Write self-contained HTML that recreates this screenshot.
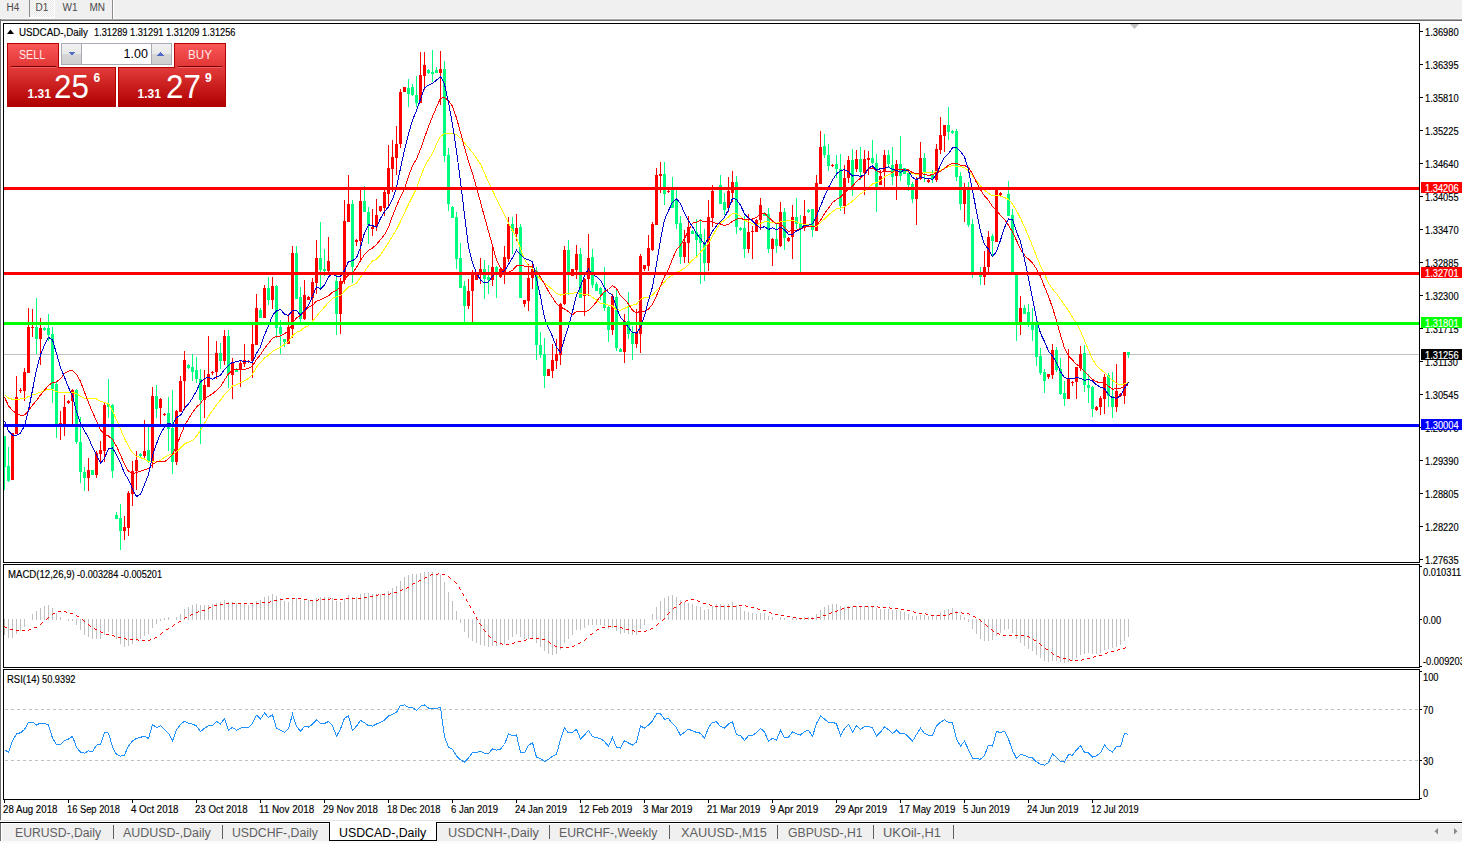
<!DOCTYPE html><html><head><meta charset="utf-8"><style>
html,body{margin:0;padding:0;}
body{width:1462px;height:843px;position:relative;overflow:hidden;background:#fff;font-family:"Liberation Sans", sans-serif;}
.t{position:absolute;white-space:pre;line-height:1;}
.ax{position:absolute;white-space:pre;line-height:1;font-size:10px;transform:scaleX(0.93);transform-origin:0 0;color:#000;-webkit-text-stroke:0.15px currentColor}
.ch{position:absolute;left:0;top:0;}
.bx{position:absolute;}
</style></head><body>
<div class="bx" style="left:0;top:0;width:1462px;height:19px;background:#f0f0f0"></div><div class="bx" style="left:0;top:18px;width:1462px;height:1px;background:#f7f7f7"></div><div class="bx" style="left:0;top:19px;width:1462px;height:1px;background:#a8a8a8"></div><div class="bx" style="left:0;top:20px;width:1462px;height:1px;background:#6e6e6e"></div><div class="bx" style="left:29px;top:0;width:1px;height:17px;background:#8c8c8c"></div><div class="bx" style="left:30px;top:0;width:24px;height:17px;background-image:repeating-conic-gradient(#ffffff 0 25%, #e6e6e6 0 50%);background-size:2px 2px"></div><div class="bx" style="left:29px;top:17px;width:26px;height:1px;background:#fff"></div><div class="bx" style="left:54px;top:0;width:1px;height:18px;background:#fff"></div><div class="bx" style="left:112px;top:0;width:1px;height:19px;background:#8c8c8c"></div><div class="bx" style="left:113px;top:0;width:1px;height:19px;background:#fff"></div><div class="t" style="left:6.5px;top:3px;font-size:10px;color:#4a4a4a">H4</div><div class="t" style="left:35.5px;top:3px;font-size:10px;color:#4a4a4a">D1</div><div class="t" style="left:62.5px;top:3px;font-size:10px;color:#4a4a4a">W1</div><div class="t" style="left:89.5px;top:3px;font-size:10px;color:#4a4a4a">MN</div><div class="bx" style="left:0;top:19px;width:1px;height:801px;background:#6e6e6e"></div><div class="bx" style="left:0;top:820px;width:1462px;height:1px;background:#e3e3e3"></div><div class="bx" style="left:0;top:822px;width:1462px;height:1px;background:#000"></div><div class="bx" style="left:0;top:824px;width:1462px;height:17px;background:#f0f0f0"></div><div class="bx" style="left:0;top:841px;width:1462px;height:2px;background:#fafafa"></div><div class="bx" style="left:0;top:823px;width:1px;height:18px;background:#6e6e6e"></div><div class="bx" style="left:1px;top:823px;width:1px;height:18px;background:#fff"></div><div class="bx" style="left:329px;top:822px;width:106px;height:18px;background:#fff;border:1px solid #000;border-top:none"></div><div class="t" style="left:15.4px;top:827px;font-size:12px;color:#5f5f5f;transform:scaleX(1.017);transform-origin:0 0">EURUSD-,Daily</div><div class="t" style="left:123.1px;top:827px;font-size:12px;color:#5f5f5f;transform:scaleX(1.036);transform-origin:0 0">AUDUSD-,Daily</div><div class="t" style="left:232.1px;top:827px;font-size:12px;color:#5f5f5f;transform:scaleX(1.021);transform-origin:0 0">USDCHF-,Daily</div><div class="t" style="left:339.4px;top:827px;font-size:12px;color:#000;transform:scaleX(1.029);transform-origin:0 0">USDCAD-,Daily</div><div class="t" style="left:448.0px;top:827px;font-size:12px;color:#5f5f5f;transform:scaleX(1.065);transform-origin:0 0">USDCNH-,Daily</div><div class="t" style="left:559.4px;top:827px;font-size:12px;color:#5f5f5f;transform:scaleX(1.02);transform-origin:0 0">EURCHF-,Weekly</div><div class="t" style="left:680.9px;top:827px;font-size:12px;color:#5f5f5f;transform:scaleX(1.065);transform-origin:0 0">XAUUSD-,M15</div><div class="t" style="left:787.6px;top:827px;font-size:12px;color:#5f5f5f;transform:scaleX(1.017);transform-origin:0 0">GBPUSD-,H1</div><div class="t" style="left:883.4px;top:827px;font-size:12px;color:#5f5f5f;transform:scaleX(1.073);transform-origin:0 0">UKOil-,H1</div><div class="bx" style="left:113px;top:825px;width:1px;height:14px;background:#5f5f5f"></div><div class="bx" style="left:222px;top:825px;width:1px;height:14px;background:#5f5f5f"></div><div class="bx" style="left:549px;top:825px;width:1px;height:14px;background:#5f5f5f"></div><div class="bx" style="left:669px;top:825px;width:1px;height:14px;background:#5f5f5f"></div><div class="bx" style="left:777px;top:825px;width:1px;height:14px;background:#5f5f5f"></div><div class="bx" style="left:873px;top:825px;width:1px;height:14px;background:#5f5f5f"></div><div class="bx" style="left:953px;top:825px;width:1px;height:14px;background:#5f5f5f"></div><svg class="ch" width="1462" height="843" style="pointer-events:none"><polygon points="1438,828 1438,834.5 1434.5,831.2" fill="#8a8a8a"/><polygon points="1454,828 1454,834.5 1457.5,831.2" fill="#8a8a8a"/></svg>
<svg class="ch" width="1462" height="843"><defs><clipPath id="cm"><rect x="4" y="24" width="1415" height="538"/></clipPath><clipPath id="cd"><rect x="4" y="565" width="1415" height="102"/></clipPath><clipPath id="cr"><rect x="4" y="670" width="1415" height="129"/></clipPath></defs><g clip-path="url(#cm)"><line x1="4" y1="354.5" x2="1419" y2="354.5" stroke="#c0c0c0" stroke-width="1"/><g shape-rendering="crispEdges"><rect x="4" y="436" width="1" height="54" fill="#00ff7f"/><rect x="3" y="436" width="3" height="31" fill="#00ff7f"/><rect x="8" y="447" width="1" height="35" fill="#00ff7f"/><rect x="7" y="466" width="3" height="15" fill="#00ff7f"/><rect x="12" y="433" width="1" height="47" fill="#ff0000"/><rect x="11" y="433" width="3" height="47" fill="#ff0000"/><rect x="16" y="376" width="1" height="58" fill="#ff0000"/><rect x="15" y="397" width="3" height="37" fill="#ff0000"/><rect x="20" y="388" width="1" height="5" fill="#ff0000"/><rect x="19" y="390" width="3" height="1" fill="#ff0000"/><rect x="24" y="368" width="1" height="33" fill="#ff0000"/><rect x="23" y="372" width="3" height="19" fill="#ff0000"/><rect x="28" y="308" width="1" height="65" fill="#ff0000"/><rect x="27" y="327" width="3" height="46" fill="#ff0000"/><rect x="32" y="309" width="1" height="28" fill="#ff0000"/><rect x="31" y="327" width="3" height="1" fill="#ff0000"/><rect x="36" y="298" width="1" height="56" fill="#00ff7f"/><rect x="35" y="327" width="3" height="12" fill="#00ff7f"/><rect x="40" y="318" width="1" height="47" fill="#ff0000"/><rect x="39" y="328" width="3" height="11" fill="#ff0000"/><rect x="44" y="327" width="1" height="4" fill="#00ff7f"/><rect x="43" y="328" width="3" height="2" fill="#00ff7f"/><rect x="48" y="314" width="1" height="27" fill="#00ff7f"/><rect x="47" y="328" width="3" height="7" fill="#00ff7f"/><rect x="52" y="327" width="1" height="76" fill="#00ff7f"/><rect x="51" y="334" width="3" height="55" fill="#00ff7f"/><rect x="56" y="382" width="1" height="56" fill="#00ff7f"/><rect x="55" y="384" width="3" height="40" fill="#00ff7f"/><rect x="60" y="411" width="1" height="29" fill="#ff0000"/><rect x="59" y="423" width="3" height="2" fill="#ff0000"/><rect x="64" y="395" width="1" height="41" fill="#ff0000"/><rect x="63" y="407" width="3" height="17" fill="#ff0000"/><rect x="68" y="400" width="1" height="4" fill="#ff0000"/><rect x="67" y="401" width="3" height="2" fill="#ff0000"/><rect x="72" y="389" width="1" height="35" fill="#ff0000"/><rect x="71" y="390" width="3" height="11" fill="#ff0000"/><rect x="76" y="389" width="1" height="55" fill="#00ff7f"/><rect x="75" y="390" width="3" height="52" fill="#00ff7f"/><rect x="80" y="417" width="1" height="66" fill="#00ff7f"/><rect x="79" y="442" width="3" height="30" fill="#00ff7f"/><rect x="84" y="467" width="1" height="24" fill="#00ff7f"/><rect x="83" y="472" width="3" height="6" fill="#00ff7f"/><rect x="88" y="458" width="1" height="33" fill="#ff0000"/><rect x="87" y="470" width="3" height="8" fill="#ff0000"/><rect x="92" y="470" width="1" height="5" fill="#00ff7f"/><rect x="91" y="470" width="3" height="5" fill="#00ff7f"/><rect x="96" y="451" width="1" height="27" fill="#ff0000"/><rect x="95" y="453" width="3" height="22" fill="#ff0000"/><rect x="100" y="441" width="1" height="22" fill="#ff0000"/><rect x="99" y="450" width="3" height="4" fill="#ff0000"/><rect x="104" y="403" width="1" height="59" fill="#ff0000"/><rect x="103" y="405" width="3" height="46" fill="#ff0000"/><rect x="108" y="379" width="1" height="39" fill="#00ff7f"/><rect x="107" y="404" width="3" height="3" fill="#00ff7f"/><rect x="112" y="404" width="1" height="74" fill="#00ff7f"/><rect x="111" y="405" width="3" height="66" fill="#00ff7f"/><rect x="116" y="512" width="1" height="7" fill="#00ff7f"/><rect x="115" y="515" width="3" height="4" fill="#00ff7f"/><rect x="120" y="504" width="1" height="46" fill="#00ff7f"/><rect x="119" y="518" width="3" height="13" fill="#00ff7f"/><rect x="124" y="516" width="1" height="24" fill="#ff0000"/><rect x="123" y="527" width="3" height="4" fill="#ff0000"/><rect x="128" y="491" width="1" height="45" fill="#ff0000"/><rect x="127" y="493" width="3" height="35" fill="#ff0000"/><rect x="132" y="461" width="1" height="45" fill="#ff0000"/><rect x="131" y="471" width="3" height="23" fill="#ff0000"/><rect x="136" y="451" width="1" height="39" fill="#ff0000"/><rect x="135" y="460" width="3" height="11" fill="#ff0000"/><rect x="140" y="453" width="1" height="4" fill="#00ff7f"/><rect x="139" y="454" width="3" height="2" fill="#00ff7f"/><rect x="144" y="420" width="1" height="38" fill="#ff0000"/><rect x="143" y="451" width="3" height="5" fill="#ff0000"/><rect x="148" y="426" width="1" height="37" fill="#00ff7f"/><rect x="147" y="450" width="3" height="11" fill="#00ff7f"/><rect x="152" y="387" width="1" height="81" fill="#ff0000"/><rect x="151" y="396" width="3" height="66" fill="#ff0000"/><rect x="156" y="385" width="1" height="33" fill="#00ff7f"/><rect x="155" y="396" width="3" height="13" fill="#00ff7f"/><rect x="160" y="398" width="1" height="27" fill="#ff0000"/><rect x="159" y="399" width="3" height="9" fill="#ff0000"/><rect x="164" y="413" width="1" height="3" fill="#ff0000"/><rect x="163" y="414" width="3" height="1" fill="#ff0000"/><rect x="168" y="397" width="1" height="54" fill="#00ff7f"/><rect x="167" y="413" width="3" height="16" fill="#00ff7f"/><rect x="172" y="390" width="1" height="84" fill="#00ff7f"/><rect x="171" y="428" width="3" height="34" fill="#00ff7f"/><rect x="176" y="410" width="1" height="55" fill="#ff0000"/><rect x="175" y="411" width="3" height="51" fill="#ff0000"/><rect x="180" y="376" width="1" height="36" fill="#ff0000"/><rect x="179" y="381" width="3" height="31" fill="#ff0000"/><rect x="184" y="351" width="1" height="59" fill="#ff0000"/><rect x="183" y="360" width="3" height="21" fill="#ff0000"/><rect x="188" y="364" width="1" height="5" fill="#00ff7f"/><rect x="187" y="365" width="3" height="3" fill="#00ff7f"/><rect x="192" y="354" width="1" height="27" fill="#00ff7f"/><rect x="191" y="367" width="3" height="5" fill="#00ff7f"/><rect x="196" y="357" width="1" height="26" fill="#00ff7f"/><rect x="195" y="370" width="3" height="9" fill="#00ff7f"/><rect x="200" y="369" width="1" height="75" fill="#00ff7f"/><rect x="199" y="379" width="3" height="21" fill="#00ff7f"/><rect x="204" y="370" width="1" height="48" fill="#ff0000"/><rect x="203" y="385" width="3" height="15" fill="#ff0000"/><rect x="208" y="336" width="1" height="51" fill="#ff0000"/><rect x="207" y="374" width="3" height="13" fill="#ff0000"/><rect x="212" y="371" width="1" height="4" fill="#ff0000"/><rect x="211" y="372" width="3" height="1" fill="#ff0000"/><rect x="216" y="341" width="1" height="38" fill="#ff0000"/><rect x="215" y="353" width="3" height="19" fill="#ff0000"/><rect x="220" y="343" width="1" height="26" fill="#00ff7f"/><rect x="219" y="353" width="3" height="8" fill="#00ff7f"/><rect x="224" y="330" width="1" height="35" fill="#ff0000"/><rect x="223" y="336" width="3" height="25" fill="#ff0000"/><rect x="228" y="330" width="1" height="58" fill="#00ff7f"/><rect x="227" y="336" width="3" height="38" fill="#00ff7f"/><rect x="232" y="358" width="1" height="41" fill="#ff0000"/><rect x="231" y="362" width="3" height="13" fill="#ff0000"/><rect x="236" y="368" width="1" height="4" fill="#00ff7f"/><rect x="235" y="369" width="3" height="3" fill="#00ff7f"/><rect x="240" y="360" width="1" height="27" fill="#ff0000"/><rect x="239" y="363" width="3" height="7" fill="#ff0000"/><rect x="244" y="344" width="1" height="23" fill="#ff0000"/><rect x="243" y="360" width="3" height="4" fill="#ff0000"/><rect x="248" y="360" width="1" height="3" fill="#ff0000"/><rect x="247" y="361" width="3" height="1" fill="#ff0000"/><rect x="252" y="325" width="1" height="53" fill="#ff0000"/><rect x="251" y="344" width="3" height="17" fill="#ff0000"/><rect x="256" y="294" width="1" height="51" fill="#ff0000"/><rect x="255" y="308" width="3" height="37" fill="#ff0000"/><rect x="260" y="308" width="1" height="10" fill="#00ff7f"/><rect x="259" y="310" width="3" height="8" fill="#00ff7f"/><rect x="264" y="285" width="1" height="33" fill="#ff0000"/><rect x="263" y="288" width="3" height="30" fill="#ff0000"/><rect x="268" y="277" width="1" height="28" fill="#00ff7f"/><rect x="267" y="288" width="3" height="12" fill="#00ff7f"/><rect x="272" y="277" width="1" height="32" fill="#ff0000"/><rect x="271" y="286" width="3" height="14" fill="#ff0000"/><rect x="276" y="285" width="1" height="53" fill="#00ff7f"/><rect x="275" y="286" width="3" height="42" fill="#00ff7f"/><rect x="280" y="320" width="1" height="34" fill="#00ff7f"/><rect x="279" y="327" width="3" height="7" fill="#00ff7f"/><rect x="284" y="339" width="1" height="8" fill="#00ff7f"/><rect x="283" y="339" width="3" height="3" fill="#00ff7f"/><rect x="288" y="314" width="1" height="30" fill="#ff0000"/><rect x="287" y="327" width="3" height="17" fill="#ff0000"/><rect x="292" y="246" width="1" height="92" fill="#ff0000"/><rect x="291" y="253" width="3" height="76" fill="#ff0000"/><rect x="296" y="246" width="1" height="53" fill="#00ff7f"/><rect x="295" y="253" width="3" height="46" fill="#00ff7f"/><rect x="300" y="287" width="1" height="35" fill="#00ff7f"/><rect x="299" y="297" width="3" height="22" fill="#00ff7f"/><rect x="304" y="280" width="1" height="40" fill="#ff0000"/><rect x="303" y="295" width="3" height="24" fill="#ff0000"/><rect x="308" y="296" width="1" height="4" fill="#ff0000"/><rect x="307" y="297" width="3" height="3" fill="#ff0000"/><rect x="312" y="278" width="1" height="42" fill="#ff0000"/><rect x="311" y="282" width="3" height="16" fill="#ff0000"/><rect x="316" y="240" width="1" height="54" fill="#ff0000"/><rect x="315" y="258" width="3" height="25" fill="#ff0000"/><rect x="320" y="222" width="1" height="68" fill="#00ff7f"/><rect x="319" y="258" width="3" height="12" fill="#00ff7f"/><rect x="324" y="249" width="1" height="27" fill="#00ff7f"/><rect x="323" y="269" width="3" height="2" fill="#00ff7f"/><rect x="328" y="237" width="1" height="35" fill="#ff0000"/><rect x="327" y="261" width="3" height="10" fill="#ff0000"/><rect x="332" y="272" width="1" height="3" fill="#00ff7f"/><rect x="331" y="273" width="3" height="1" fill="#00ff7f"/><rect x="336" y="274" width="1" height="61" fill="#00ff7f"/><rect x="335" y="281" width="3" height="33" fill="#00ff7f"/><rect x="340" y="278" width="1" height="56" fill="#ff0000"/><rect x="339" y="281" width="3" height="33" fill="#ff0000"/><rect x="344" y="200" width="1" height="84" fill="#ff0000"/><rect x="343" y="221" width="3" height="59" fill="#ff0000"/><rect x="348" y="175" width="1" height="47" fill="#ff0000"/><rect x="347" y="204" width="3" height="18" fill="#ff0000"/><rect x="352" y="200" width="1" height="83" fill="#00ff7f"/><rect x="351" y="204" width="3" height="63" fill="#00ff7f"/><rect x="356" y="239" width="1" height="7" fill="#ff0000"/><rect x="355" y="240" width="3" height="2" fill="#ff0000"/><rect x="360" y="190" width="1" height="70" fill="#ff0000"/><rect x="359" y="201" width="3" height="40" fill="#ff0000"/><rect x="364" y="186" width="1" height="26" fill="#00ff7f"/><rect x="363" y="201" width="3" height="11" fill="#00ff7f"/><rect x="368" y="207" width="1" height="37" fill="#00ff7f"/><rect x="367" y="212" width="3" height="13" fill="#00ff7f"/><rect x="372" y="209" width="1" height="27" fill="#ff0000"/><rect x="371" y="227" width="3" height="2" fill="#ff0000"/><rect x="376" y="199" width="1" height="32" fill="#ff0000"/><rect x="375" y="215" width="3" height="12" fill="#ff0000"/><rect x="380" y="206" width="1" height="6" fill="#ff0000"/><rect x="379" y="206" width="3" height="5" fill="#ff0000"/><rect x="384" y="189" width="1" height="27" fill="#ff0000"/><rect x="383" y="192" width="3" height="16" fill="#ff0000"/><rect x="388" y="145" width="1" height="61" fill="#ff0000"/><rect x="387" y="168" width="3" height="26" fill="#ff0000"/><rect x="392" y="140" width="1" height="52" fill="#ff0000"/><rect x="391" y="157" width="3" height="12" fill="#ff0000"/><rect x="396" y="126" width="1" height="49" fill="#ff0000"/><rect x="395" y="144" width="3" height="14" fill="#ff0000"/><rect x="400" y="89" width="1" height="59" fill="#ff0000"/><rect x="399" y="92" width="3" height="52" fill="#ff0000"/><rect x="404" y="87" width="1" height="5" fill="#ff0000"/><rect x="403" y="87" width="3" height="5" fill="#ff0000"/><rect x="408" y="79" width="1" height="28" fill="#00ff7f"/><rect x="407" y="88" width="3" height="6" fill="#00ff7f"/><rect x="412" y="84" width="1" height="12" fill="#00ff7f"/><rect x="411" y="87" width="3" height="8" fill="#00ff7f"/><rect x="416" y="76" width="1" height="31" fill="#00ff7f"/><rect x="415" y="95" width="3" height="8" fill="#00ff7f"/><rect x="420" y="52" width="1" height="51" fill="#ff0000"/><rect x="419" y="75" width="3" height="28" fill="#ff0000"/><rect x="424" y="52" width="1" height="38" fill="#ff0000"/><rect x="423" y="65" width="3" height="11" fill="#ff0000"/><rect x="428" y="69" width="1" height="5" fill="#00ff7f"/><rect x="427" y="70" width="3" height="3" fill="#00ff7f"/><rect x="432" y="50" width="1" height="32" fill="#00ff7f"/><rect x="431" y="72" width="3" height="2" fill="#00ff7f"/><rect x="436" y="67" width="1" height="6" fill="#00ff7f"/><rect x="435" y="70" width="3" height="3" fill="#00ff7f"/><rect x="440" y="51" width="1" height="54" fill="#ff0000"/><rect x="439" y="69" width="3" height="4" fill="#ff0000"/><rect x="444" y="61" width="1" height="101" fill="#00ff7f"/><rect x="443" y="69" width="3" height="87" fill="#00ff7f"/><rect x="448" y="148" width="1" height="63" fill="#00ff7f"/><rect x="447" y="155" width="3" height="49" fill="#00ff7f"/><rect x="452" y="206" width="1" height="12" fill="#00ff7f"/><rect x="451" y="207" width="3" height="11" fill="#00ff7f"/><rect x="456" y="212" width="1" height="57" fill="#00ff7f"/><rect x="455" y="217" width="3" height="42" fill="#00ff7f"/><rect x="460" y="243" width="1" height="45" fill="#00ff7f"/><rect x="459" y="258" width="3" height="30" fill="#00ff7f"/><rect x="464" y="281" width="1" height="44" fill="#00ff7f"/><rect x="463" y="286" width="3" height="20" fill="#00ff7f"/><rect x="468" y="279" width="1" height="30" fill="#ff0000"/><rect x="467" y="291" width="3" height="15" fill="#ff0000"/><rect x="472" y="270" width="1" height="55" fill="#ff0000"/><rect x="471" y="272" width="3" height="19" fill="#ff0000"/><rect x="476" y="272" width="1" height="8" fill="#ff0000"/><rect x="475" y="272" width="3" height="8" fill="#ff0000"/><rect x="480" y="258" width="1" height="26" fill="#ff0000"/><rect x="479" y="269" width="3" height="3" fill="#ff0000"/><rect x="484" y="260" width="1" height="39" fill="#00ff7f"/><rect x="483" y="269" width="3" height="10" fill="#00ff7f"/><rect x="488" y="265" width="1" height="29" fill="#00ff7f"/><rect x="487" y="277" width="3" height="3" fill="#00ff7f"/><rect x="492" y="247" width="1" height="39" fill="#ff0000"/><rect x="491" y="267" width="3" height="13" fill="#ff0000"/><rect x="496" y="266" width="1" height="32" fill="#00ff7f"/><rect x="495" y="267" width="3" height="5" fill="#00ff7f"/><rect x="500" y="268" width="1" height="10" fill="#ff0000"/><rect x="499" y="269" width="3" height="8" fill="#ff0000"/><rect x="504" y="246" width="1" height="38" fill="#ff0000"/><rect x="503" y="257" width="3" height="16" fill="#ff0000"/><rect x="508" y="217" width="1" height="45" fill="#ff0000"/><rect x="507" y="224" width="3" height="35" fill="#ff0000"/><rect x="512" y="217" width="1" height="37" fill="#00ff7f"/><rect x="511" y="224" width="3" height="7" fill="#00ff7f"/><rect x="516" y="214" width="1" height="27" fill="#ff0000"/><rect x="515" y="228" width="3" height="6" fill="#ff0000"/><rect x="520" y="224" width="1" height="74" fill="#00ff7f"/><rect x="519" y="227" width="3" height="71" fill="#00ff7f"/><rect x="524" y="300" width="1" height="7" fill="#ff0000"/><rect x="523" y="300" width="3" height="4" fill="#ff0000"/><rect x="528" y="264" width="1" height="47" fill="#ff0000"/><rect x="527" y="278" width="3" height="23" fill="#ff0000"/><rect x="532" y="262" width="1" height="27" fill="#ff0000"/><rect x="531" y="269" width="3" height="9" fill="#ff0000"/><rect x="536" y="267" width="1" height="93" fill="#00ff7f"/><rect x="535" y="271" width="3" height="74" fill="#00ff7f"/><rect x="540" y="332" width="1" height="26" fill="#00ff7f"/><rect x="539" y="345" width="3" height="10" fill="#00ff7f"/><rect x="544" y="338" width="1" height="50" fill="#00ff7f"/><rect x="543" y="354" width="3" height="22" fill="#00ff7f"/><rect x="548" y="369" width="1" height="7" fill="#ff0000"/><rect x="547" y="369" width="3" height="7" fill="#ff0000"/><rect x="552" y="344" width="1" height="34" fill="#ff0000"/><rect x="551" y="360" width="3" height="11" fill="#ff0000"/><rect x="556" y="339" width="1" height="30" fill="#ff0000"/><rect x="555" y="354" width="3" height="7" fill="#ff0000"/><rect x="560" y="303" width="1" height="62" fill="#ff0000"/><rect x="559" y="304" width="3" height="51" fill="#ff0000"/><rect x="564" y="246" width="1" height="59" fill="#ff0000"/><rect x="563" y="250" width="3" height="54" fill="#ff0000"/><rect x="568" y="240" width="1" height="55" fill="#00ff7f"/><rect x="567" y="250" width="3" height="22" fill="#00ff7f"/><rect x="572" y="269" width="1" height="7" fill="#ff0000"/><rect x="571" y="269" width="3" height="7" fill="#ff0000"/><rect x="576" y="245" width="1" height="34" fill="#ff0000"/><rect x="575" y="254" width="3" height="16" fill="#ff0000"/><rect x="580" y="248" width="1" height="50" fill="#00ff7f"/><rect x="579" y="254" width="3" height="44" fill="#00ff7f"/><rect x="584" y="278" width="1" height="38" fill="#ff0000"/><rect x="583" y="279" width="3" height="17" fill="#ff0000"/><rect x="588" y="234" width="1" height="62" fill="#ff0000"/><rect x="587" y="258" width="3" height="21" fill="#ff0000"/><rect x="592" y="249" width="1" height="39" fill="#00ff7f"/><rect x="591" y="257" width="3" height="28" fill="#00ff7f"/><rect x="596" y="282" width="1" height="9" fill="#00ff7f"/><rect x="595" y="284" width="3" height="7" fill="#00ff7f"/><rect x="600" y="287" width="1" height="13" fill="#00ff7f"/><rect x="599" y="288" width="3" height="6" fill="#00ff7f"/><rect x="604" y="267" width="1" height="44" fill="#00ff7f"/><rect x="603" y="292" width="3" height="16" fill="#00ff7f"/><rect x="608" y="306" width="1" height="36" fill="#00ff7f"/><rect x="607" y="307" width="3" height="23" fill="#00ff7f"/><rect x="612" y="294" width="1" height="41" fill="#ff0000"/><rect x="611" y="296" width="3" height="34" fill="#ff0000"/><rect x="616" y="290" width="1" height="61" fill="#00ff7f"/><rect x="615" y="297" width="3" height="51" fill="#00ff7f"/><rect x="620" y="348" width="1" height="4" fill="#00ff7f"/><rect x="619" y="349" width="3" height="3" fill="#00ff7f"/><rect x="624" y="314" width="1" height="49" fill="#ff0000"/><rect x="623" y="321" width="3" height="31" fill="#ff0000"/><rect x="628" y="292" width="1" height="47" fill="#00ff7f"/><rect x="627" y="321" width="3" height="13" fill="#00ff7f"/><rect x="632" y="326" width="1" height="34" fill="#00ff7f"/><rect x="631" y="333" width="3" height="11" fill="#00ff7f"/><rect x="636" y="309" width="1" height="39" fill="#ff0000"/><rect x="635" y="333" width="3" height="11" fill="#ff0000"/><rect x="640" y="254" width="1" height="99" fill="#ff0000"/><rect x="639" y="256" width="3" height="78" fill="#ff0000"/><rect x="644" y="265" width="1" height="6" fill="#ff0000"/><rect x="643" y="265" width="3" height="4" fill="#ff0000"/><rect x="648" y="235" width="1" height="36" fill="#ff0000"/><rect x="647" y="248" width="3" height="18" fill="#ff0000"/><rect x="652" y="222" width="1" height="29" fill="#ff0000"/><rect x="651" y="224" width="3" height="26" fill="#ff0000"/><rect x="656" y="168" width="1" height="57" fill="#ff0000"/><rect x="655" y="175" width="3" height="50" fill="#ff0000"/><rect x="660" y="162" width="1" height="31" fill="#ff0000"/><rect x="659" y="174" width="3" height="2" fill="#ff0000"/><rect x="664" y="162" width="1" height="43" fill="#00ff7f"/><rect x="663" y="174" width="3" height="20" fill="#00ff7f"/><rect x="668" y="190" width="1" height="3" fill="#ff0000"/><rect x="667" y="191" width="3" height="1" fill="#ff0000"/><rect x="672" y="177" width="1" height="31" fill="#00ff7f"/><rect x="671" y="190" width="3" height="18" fill="#00ff7f"/><rect x="676" y="190" width="1" height="39" fill="#00ff7f"/><rect x="675" y="200" width="3" height="24" fill="#00ff7f"/><rect x="680" y="216" width="1" height="48" fill="#00ff7f"/><rect x="679" y="223" width="3" height="34" fill="#00ff7f"/><rect x="684" y="230" width="1" height="33" fill="#ff0000"/><rect x="683" y="242" width="3" height="15" fill="#ff0000"/><rect x="688" y="216" width="1" height="47" fill="#ff0000"/><rect x="687" y="227" width="3" height="16" fill="#ff0000"/><rect x="692" y="230" width="1" height="4" fill="#00ff7f"/><rect x="691" y="231" width="3" height="3" fill="#00ff7f"/><rect x="696" y="219" width="1" height="37" fill="#00ff7f"/><rect x="695" y="232" width="3" height="8" fill="#00ff7f"/><rect x="700" y="219" width="1" height="65" fill="#00ff7f"/><rect x="699" y="234" width="3" height="9" fill="#00ff7f"/><rect x="704" y="229" width="1" height="52" fill="#00ff7f"/><rect x="703" y="244" width="3" height="19" fill="#00ff7f"/><rect x="708" y="200" width="1" height="71" fill="#ff0000"/><rect x="707" y="217" width="3" height="46" fill="#ff0000"/><rect x="712" y="185" width="1" height="42" fill="#ff0000"/><rect x="711" y="191" width="3" height="27" fill="#ff0000"/><rect x="716" y="187" width="1" height="3" fill="#00ff7f"/><rect x="715" y="188" width="3" height="1" fill="#00ff7f"/><rect x="720" y="175" width="1" height="29" fill="#00ff7f"/><rect x="719" y="185" width="3" height="19" fill="#00ff7f"/><rect x="724" y="193" width="1" height="22" fill="#00ff7f"/><rect x="723" y="202" width="3" height="8" fill="#00ff7f"/><rect x="728" y="177" width="1" height="35" fill="#ff0000"/><rect x="727" y="191" width="3" height="17" fill="#ff0000"/><rect x="732" y="171" width="1" height="31" fill="#ff0000"/><rect x="731" y="182" width="3" height="11" fill="#ff0000"/><rect x="736" y="176" width="1" height="58" fill="#00ff7f"/><rect x="735" y="182" width="3" height="45" fill="#00ff7f"/><rect x="740" y="227" width="1" height="4" fill="#00ff7f"/><rect x="739" y="228" width="3" height="2" fill="#00ff7f"/><rect x="744" y="216" width="1" height="42" fill="#00ff7f"/><rect x="743" y="228" width="3" height="21" fill="#00ff7f"/><rect x="748" y="214" width="1" height="39" fill="#ff0000"/><rect x="747" y="232" width="3" height="17" fill="#ff0000"/><rect x="752" y="226" width="1" height="33" fill="#ff0000"/><rect x="751" y="231" width="3" height="1" fill="#ff0000"/><rect x="756" y="219" width="1" height="13" fill="#ff0000"/><rect x="755" y="220" width="3" height="12" fill="#ff0000"/><rect x="760" y="198" width="1" height="32" fill="#ff0000"/><rect x="759" y="205" width="3" height="15" fill="#ff0000"/><rect x="764" y="212" width="1" height="4" fill="#00ff7f"/><rect x="763" y="214" width="3" height="2" fill="#00ff7f"/><rect x="768" y="208" width="1" height="45" fill="#00ff7f"/><rect x="767" y="214" width="3" height="35" fill="#00ff7f"/><rect x="772" y="238" width="1" height="28" fill="#ff0000"/><rect x="771" y="239" width="3" height="10" fill="#ff0000"/><rect x="776" y="224" width="1" height="29" fill="#00ff7f"/><rect x="775" y="239" width="3" height="7" fill="#00ff7f"/><rect x="780" y="202" width="1" height="45" fill="#ff0000"/><rect x="779" y="212" width="3" height="34" fill="#ff0000"/><rect x="784" y="208" width="1" height="42" fill="#00ff7f"/><rect x="783" y="212" width="3" height="26" fill="#00ff7f"/><rect x="788" y="237" width="1" height="5" fill="#ff0000"/><rect x="787" y="238" width="3" height="3" fill="#ff0000"/><rect x="792" y="205" width="1" height="54" fill="#ff0000"/><rect x="791" y="217" width="3" height="20" fill="#ff0000"/><rect x="796" y="198" width="1" height="31" fill="#00ff7f"/><rect x="795" y="217" width="3" height="7" fill="#00ff7f"/><rect x="800" y="215" width="1" height="57" fill="#00ff7f"/><rect x="799" y="224" width="3" height="4" fill="#00ff7f"/><rect x="804" y="200" width="1" height="31" fill="#ff0000"/><rect x="803" y="216" width="3" height="12" fill="#ff0000"/><rect x="808" y="209" width="1" height="4" fill="#00ff7f"/><rect x="807" y="210" width="3" height="2" fill="#00ff7f"/><rect x="812" y="209" width="1" height="28" fill="#00ff7f"/><rect x="811" y="209" width="3" height="21" fill="#00ff7f"/><rect x="816" y="175" width="1" height="56" fill="#ff0000"/><rect x="815" y="183" width="3" height="48" fill="#ff0000"/><rect x="820" y="131" width="1" height="53" fill="#ff0000"/><rect x="819" y="147" width="3" height="37" fill="#ff0000"/><rect x="824" y="134" width="1" height="24" fill="#00ff7f"/><rect x="823" y="146" width="3" height="9" fill="#00ff7f"/><rect x="828" y="144" width="1" height="27" fill="#00ff7f"/><rect x="827" y="155" width="3" height="11" fill="#00ff7f"/><rect x="832" y="164" width="1" height="3" fill="#ff0000"/><rect x="831" y="165" width="3" height="1" fill="#ff0000"/><rect x="836" y="155" width="1" height="23" fill="#00ff7f"/><rect x="835" y="164" width="3" height="5" fill="#00ff7f"/><rect x="840" y="154" width="1" height="57" fill="#00ff7f"/><rect x="839" y="169" width="3" height="37" fill="#00ff7f"/><rect x="844" y="165" width="1" height="49" fill="#ff0000"/><rect x="843" y="178" width="3" height="28" fill="#ff0000"/><rect x="848" y="156" width="1" height="27" fill="#ff0000"/><rect x="847" y="160" width="3" height="18" fill="#ff0000"/><rect x="852" y="149" width="1" height="47" fill="#00ff7f"/><rect x="851" y="160" width="3" height="27" fill="#00ff7f"/><rect x="856" y="150" width="1" height="22" fill="#ff0000"/><rect x="855" y="159" width="3" height="10" fill="#ff0000"/><rect x="860" y="147" width="1" height="33" fill="#00ff7f"/><rect x="859" y="159" width="3" height="13" fill="#00ff7f"/><rect x="864" y="150" width="1" height="45" fill="#ff0000"/><rect x="863" y="159" width="3" height="14" fill="#ff0000"/><rect x="868" y="151" width="1" height="24" fill="#ff0000"/><rect x="867" y="158" width="3" height="2" fill="#ff0000"/><rect x="872" y="140" width="1" height="24" fill="#00ff7f"/><rect x="871" y="158" width="3" height="5" fill="#00ff7f"/><rect x="876" y="154" width="1" height="58" fill="#00ff7f"/><rect x="875" y="163" width="3" height="27" fill="#00ff7f"/><rect x="880" y="170" width="1" height="15" fill="#ff0000"/><rect x="879" y="176" width="3" height="9" fill="#ff0000"/><rect x="884" y="150" width="1" height="38" fill="#ff0000"/><rect x="883" y="155" width="3" height="16" fill="#ff0000"/><rect x="888" y="150" width="1" height="18" fill="#00ff7f"/><rect x="887" y="155" width="3" height="9" fill="#00ff7f"/><rect x="892" y="147" width="1" height="38" fill="#00ff7f"/><rect x="891" y="165" width="3" height="12" fill="#00ff7f"/><rect x="896" y="160" width="1" height="40" fill="#ff0000"/><rect x="895" y="164" width="3" height="12" fill="#ff0000"/><rect x="900" y="136" width="1" height="45" fill="#00ff7f"/><rect x="899" y="164" width="3" height="12" fill="#00ff7f"/><rect x="904" y="168" width="1" height="6" fill="#00ff7f"/><rect x="903" y="168" width="3" height="6" fill="#00ff7f"/><rect x="908" y="171" width="1" height="20" fill="#00ff7f"/><rect x="907" y="173" width="3" height="12" fill="#00ff7f"/><rect x="912" y="182" width="1" height="21" fill="#00ff7f"/><rect x="911" y="184" width="3" height="15" fill="#00ff7f"/><rect x="916" y="177" width="1" height="48" fill="#ff0000"/><rect x="915" y="179" width="3" height="20" fill="#ff0000"/><rect x="920" y="142" width="1" height="38" fill="#ff0000"/><rect x="919" y="158" width="3" height="21" fill="#ff0000"/><rect x="924" y="153" width="1" height="29" fill="#00ff7f"/><rect x="923" y="158" width="3" height="15" fill="#00ff7f"/><rect x="928" y="179" width="1" height="4" fill="#ff0000"/><rect x="927" y="180" width="3" height="2" fill="#ff0000"/><rect x="932" y="170" width="1" height="13" fill="#00ff7f"/><rect x="931" y="174" width="3" height="5" fill="#00ff7f"/><rect x="936" y="144" width="1" height="38" fill="#ff0000"/><rect x="935" y="149" width="3" height="31" fill="#ff0000"/><rect x="940" y="117" width="1" height="37" fill="#ff0000"/><rect x="939" y="135" width="3" height="15" fill="#ff0000"/><rect x="944" y="125" width="1" height="27" fill="#ff0000"/><rect x="943" y="125" width="3" height="11" fill="#ff0000"/><rect x="948" y="107" width="1" height="33" fill="#00ff7f"/><rect x="947" y="125" width="3" height="7" fill="#00ff7f"/><rect x="952" y="130" width="1" height="4" fill="#00ff7f"/><rect x="951" y="131" width="3" height="2" fill="#00ff7f"/><rect x="956" y="129" width="1" height="52" fill="#00ff7f"/><rect x="955" y="131" width="3" height="46" fill="#00ff7f"/><rect x="960" y="172" width="1" height="38" fill="#00ff7f"/><rect x="959" y="176" width="3" height="28" fill="#00ff7f"/><rect x="964" y="183" width="1" height="39" fill="#ff0000"/><rect x="963" y="189" width="3" height="15" fill="#ff0000"/><rect x="968" y="182" width="1" height="45" fill="#00ff7f"/><rect x="967" y="190" width="3" height="35" fill="#00ff7f"/><rect x="972" y="219" width="1" height="59" fill="#00ff7f"/><rect x="971" y="224" width="3" height="48" fill="#00ff7f"/><rect x="976" y="272" width="1" height="3" fill="#00ff7f"/><rect x="975" y="273" width="3" height="1" fill="#00ff7f"/><rect x="980" y="267" width="1" height="18" fill="#00ff7f"/><rect x="979" y="272" width="3" height="5" fill="#00ff7f"/><rect x="984" y="251" width="1" height="34" fill="#ff0000"/><rect x="983" y="267" width="3" height="10" fill="#ff0000"/><rect x="988" y="231" width="1" height="41" fill="#ff0000"/><rect x="987" y="237" width="3" height="30" fill="#ff0000"/><rect x="992" y="234" width="1" height="22" fill="#00ff7f"/><rect x="991" y="236" width="3" height="5" fill="#00ff7f"/><rect x="996" y="187" width="1" height="55" fill="#ff0000"/><rect x="995" y="189" width="3" height="53" fill="#ff0000"/><rect x="1000" y="192" width="1" height="4" fill="#ff0000"/><rect x="999" y="193" width="3" height="2" fill="#ff0000"/><rect x="1004" y="187" width="1" height="3" fill="#ff0000"/><rect x="1003" y="188" width="3" height="1" fill="#ff0000"/><rect x="1008" y="181" width="1" height="35" fill="#00ff7f"/><rect x="1007" y="194" width="3" height="22" fill="#00ff7f"/><rect x="1012" y="209" width="1" height="63" fill="#00ff7f"/><rect x="1011" y="215" width="3" height="57" fill="#00ff7f"/><rect x="1016" y="275" width="1" height="66" fill="#00ff7f"/><rect x="1015" y="275" width="3" height="47" fill="#00ff7f"/><rect x="1020" y="296" width="1" height="39" fill="#ff0000"/><rect x="1019" y="308" width="3" height="14" fill="#ff0000"/><rect x="1024" y="305" width="1" height="9" fill="#00ff7f"/><rect x="1023" y="308" width="3" height="6" fill="#00ff7f"/><rect x="1028" y="304" width="1" height="23" fill="#00ff7f"/><rect x="1027" y="312" width="3" height="13" fill="#00ff7f"/><rect x="1032" y="308" width="1" height="33" fill="#00ff7f"/><rect x="1031" y="324" width="3" height="6" fill="#00ff7f"/><rect x="1036" y="319" width="1" height="47" fill="#00ff7f"/><rect x="1035" y="325" width="3" height="32" fill="#00ff7f"/><rect x="1040" y="348" width="1" height="27" fill="#00ff7f"/><rect x="1039" y="356" width="3" height="17" fill="#00ff7f"/><rect x="1044" y="369" width="1" height="24" fill="#00ff7f"/><rect x="1043" y="372" width="3" height="9" fill="#00ff7f"/><rect x="1048" y="374" width="1" height="5" fill="#ff0000"/><rect x="1047" y="374" width="3" height="3" fill="#ff0000"/><rect x="1052" y="344" width="1" height="35" fill="#ff0000"/><rect x="1051" y="350" width="3" height="25" fill="#ff0000"/><rect x="1056" y="347" width="1" height="25" fill="#00ff7f"/><rect x="1055" y="350" width="3" height="20" fill="#00ff7f"/><rect x="1060" y="358" width="1" height="37" fill="#00ff7f"/><rect x="1059" y="369" width="3" height="25" fill="#00ff7f"/><rect x="1064" y="381" width="1" height="25" fill="#00ff7f"/><rect x="1063" y="393" width="3" height="6" fill="#00ff7f"/><rect x="1068" y="349" width="1" height="50" fill="#ff0000"/><rect x="1067" y="378" width="3" height="21" fill="#ff0000"/><rect x="1072" y="381" width="1" height="5" fill="#ff0000"/><rect x="1071" y="382" width="3" height="1" fill="#ff0000"/><rect x="1076" y="367" width="1" height="32" fill="#ff0000"/><rect x="1075" y="367" width="3" height="15" fill="#ff0000"/><rect x="1080" y="346" width="1" height="25" fill="#ff0000"/><rect x="1079" y="354" width="3" height="14" fill="#ff0000"/><rect x="1084" y="345" width="1" height="47" fill="#00ff7f"/><rect x="1083" y="353" width="3" height="32" fill="#00ff7f"/><rect x="1088" y="374" width="1" height="29" fill="#00ff7f"/><rect x="1087" y="385" width="3" height="3" fill="#00ff7f"/><rect x="1092" y="386" width="1" height="31" fill="#00ff7f"/><rect x="1091" y="387" width="3" height="22" fill="#00ff7f"/><rect x="1096" y="406" width="1" height="5" fill="#ff0000"/><rect x="1095" y="407" width="3" height="3" fill="#ff0000"/><rect x="1100" y="396" width="1" height="19" fill="#ff0000"/><rect x="1099" y="398" width="3" height="9" fill="#ff0000"/><rect x="1104" y="374" width="1" height="40" fill="#ff0000"/><rect x="1103" y="377" width="3" height="22" fill="#ff0000"/><rect x="1108" y="373" width="1" height="34" fill="#00ff7f"/><rect x="1107" y="375" width="3" height="21" fill="#00ff7f"/><rect x="1112" y="372" width="1" height="46" fill="#00ff7f"/><rect x="1111" y="396" width="3" height="11" fill="#00ff7f"/><rect x="1116" y="364" width="1" height="48" fill="#ff0000"/><rect x="1115" y="391" width="3" height="16" fill="#ff0000"/><rect x="1120" y="393" width="1" height="4" fill="#ff0000"/><rect x="1119" y="394" width="3" height="2" fill="#ff0000"/><rect x="1124" y="352" width="1" height="52" fill="#ff0000"/><rect x="1123" y="352" width="3" height="44" fill="#ff0000"/><rect x="1128" y="352" width="1" height="6" fill="#00ff7f"/><rect x="1127" y="352" width="3" height="3" fill="#00ff7f"/></g><polyline points="4.5,394.7 8.5,398.1 12.5,399.3 16.5,399.1 20.5,399.0 24.5,398.6 28.5,396.5 32.5,394.8 36.5,393.8 40.5,392.1 44.5,390.6 48.5,389.2 52.5,389.9 56.5,391.6 60.5,392.7 64.5,392.6 68.5,392.5 72.5,392.2 76.5,393.9 80.5,396.2 84.5,398.2 88.5,398.4 92.5,398.1 96.5,399.0 100.5,401.5 104.5,402.3 108.5,403.9 112.5,410.8 116.5,419.9 120.5,429.1 124.5,438.5 128.5,446.3 132.5,452.8 136.5,456.2 140.5,457.7 144.5,459.0 148.5,461.6 152.5,461.4 156.5,462.3 160.5,460.2 164.5,457.4 168.5,455.1 172.5,454.7 176.5,451.6 180.5,448.2 184.5,443.9 188.5,442.2 192.5,440.5 196.5,436.1 200.5,430.5 204.5,423.5 208.5,416.2 212.5,410.5 216.5,404.8 220.5,400.1 224.5,394.4 228.5,390.7 232.5,386.0 236.5,384.9 240.5,382.7 244.5,380.8 248.5,378.3 252.5,374.3 256.5,366.9 260.5,362.5 264.5,358.1 268.5,355.2 272.5,351.3 276.5,349.2 280.5,347.1 284.5,344.3 288.5,341.5 292.5,335.8 296.5,332.3 300.5,330.7 304.5,327.5 308.5,325.7 312.5,321.3 316.5,316.4 320.5,311.5 324.5,307.1 328.5,302.4 332.5,298.3 336.5,296.9 340.5,295.6 344.5,291.0 348.5,287.0 352.5,285.4 356.5,283.2 360.5,277.2 364.5,271.4 368.5,265.8 372.5,261.0 376.5,259.2 380.5,254.8 384.5,248.7 388.5,242.7 392.5,236.0 396.5,229.5 400.5,221.5 404.5,212.8 408.5,204.4 412.5,196.5 416.5,188.4 420.5,177.0 424.5,166.7 428.5,159.6 432.5,153.5 436.5,144.2 440.5,136.1 444.5,133.9 448.5,133.5 452.5,133.2 456.5,134.7 460.5,138.2 464.5,143.0 468.5,147.7 472.5,152.6 476.5,158.1 480.5,164.1 484.5,173.0 488.5,182.2 492.5,190.4 496.5,198.8 500.5,206.7 504.5,215.4 508.5,223.0 512.5,230.5 516.5,237.8 520.5,248.5 524.5,259.5 528.5,265.4 532.5,268.5 536.5,274.5 540.5,279.1 544.5,283.3 548.5,286.3 552.5,289.5 556.5,293.5 560.5,295.0 564.5,294.1 568.5,293.7 572.5,293.2 576.5,292.6 580.5,293.8 584.5,294.3 588.5,294.4 592.5,297.3 596.5,300.1 600.5,303.3 604.5,303.7 608.5,305.2 612.5,306.0 616.5,309.8 620.5,310.1 624.5,308.5 628.5,306.5 632.5,305.3 636.5,304.0 640.5,299.4 644.5,297.5 648.5,297.4 652.5,295.1 656.5,290.6 660.5,286.8 664.5,281.9 668.5,277.6 672.5,275.3 676.5,272.4 680.5,270.7 684.5,268.3 688.5,264.4 692.5,259.8 696.5,257.2 700.5,252.2 704.5,247.9 708.5,243.0 712.5,236.2 716.5,228.8 720.5,222.6 724.5,220.5 728.5,216.9 732.5,213.8 736.5,213.9 740.5,216.5 744.5,220.1 748.5,221.9 752.5,223.9 756.5,224.5 760.5,223.5 764.5,221.6 768.5,221.9 772.5,222.5 776.5,223.1 780.5,221.7 784.5,221.5 788.5,220.3 792.5,220.3 796.5,221.8 800.5,223.7 804.5,224.3 808.5,224.4 812.5,226.2 816.5,226.3 820.5,222.5 824.5,218.9 828.5,214.9 832.5,211.7 836.5,208.7 840.5,208.1 844.5,206.8 848.5,204.1 852.5,201.2 856.5,197.4 860.5,193.8 864.5,191.3 868.5,187.5 872.5,184.0 876.5,182.7 880.5,180.4 884.5,176.9 888.5,174.5 892.5,172.8 896.5,169.6 900.5,169.3 904.5,170.6 908.5,172.0 912.5,173.6 916.5,174.3 920.5,173.8 924.5,172.2 928.5,172.3 932.5,173.2 936.5,171.4 940.5,170.2 944.5,168.0 948.5,166.7 952.5,165.5 956.5,166.2 960.5,166.8 964.5,167.5 968.5,170.8 972.5,175.9 976.5,180.5 980.5,185.9 984.5,190.3 988.5,193.3 992.5,195.9 996.5,195.5 1000.5,196.1 1004.5,197.5 1008.5,199.5 1012.5,203.9 1016.5,210.7 1020.5,218.3 1024.5,226.8 1028.5,236.4 1032.5,245.8 1036.5,256.5 1040.5,265.8 1044.5,274.2 1048.5,283.0 1052.5,289.0 1056.5,293.6 1060.5,299.4 1064.5,305.2 1068.5,310.5 1072.5,317.4 1076.5,323.4 1080.5,331.2 1084.5,340.4 1088.5,350.0 1092.5,359.2 1096.5,365.5 1100.5,369.2 1104.5,372.5 1108.5,376.4 1112.5,380.3 1116.5,383.2 1120.5,384.9 1124.5,383.9 1128.5,382.6" fill="none" stroke="#ffff00" stroke-width="1" shape-rendering="crispEdges" /><polyline points="4.5,397.2 8.5,405.8 12.5,410.7 16.5,413.2 20.5,415.2 24.5,415.0 28.5,410.6 32.5,405.3 36.5,400.4 40.5,395.0 44.5,390.3 48.5,385.2 52.5,382.7 56.5,381.9 60.5,378.7 64.5,373.4 68.5,371.1 72.5,370.6 76.5,374.4 80.5,381.5 84.5,392.3 88.5,402.5 92.5,412.2 96.5,421.1 100.5,429.7 104.5,434.7 108.5,436.0 112.5,439.4 116.5,446.2 120.5,455.1 124.5,464.1 128.5,471.4 132.5,473.5 136.5,472.6 140.5,471.1 144.5,469.7 148.5,468.7 152.5,464.6 156.5,461.7 160.5,461.3 164.5,461.7 168.5,458.7 172.5,454.6 176.5,446.1 180.5,435.6 184.5,426.1 188.5,418.8 192.5,412.5 196.5,407.0 200.5,403.4 204.5,397.9 208.5,396.4 212.5,393.7 216.5,390.4 220.5,386.7 224.5,380.1 228.5,373.8 232.5,370.3 236.5,369.6 240.5,369.9 244.5,369.3 248.5,368.4 252.5,365.9 256.5,359.4 260.5,354.6 264.5,348.4 268.5,343.3 272.5,338.5 276.5,336.1 280.5,336.0 284.5,333.7 288.5,331.2 292.5,322.7 296.5,318.1 300.5,315.2 304.5,310.6 308.5,307.2 312.5,305.4 316.5,301.1 320.5,299.8 324.5,297.7 328.5,295.9 332.5,292.1 336.5,290.6 340.5,286.3 344.5,278.7 348.5,275.2 352.5,272.9 356.5,267.3 360.5,260.6 364.5,254.5 368.5,250.4 372.5,248.2 376.5,244.3 380.5,239.6 384.5,234.7 388.5,227.1 392.5,215.9 396.5,206.1 400.5,196.9 404.5,188.6 408.5,176.2 412.5,165.9 416.5,158.9 420.5,149.1 424.5,137.6 428.5,126.6 432.5,116.6 436.5,107.1 440.5,98.3 444.5,97.4 448.5,100.8 452.5,106.1 456.5,118.0 460.5,132.4 464.5,147.5 468.5,161.5 472.5,173.6 476.5,187.6 480.5,202.2 484.5,216.9 488.5,231.6 492.5,245.5 496.5,260.0 500.5,268.1 504.5,271.9 508.5,272.3 512.5,270.3 516.5,266.0 520.5,265.4 524.5,266.1 528.5,266.5 532.5,266.3 536.5,271.7 540.5,277.1 544.5,284.0 548.5,291.3 552.5,297.6 556.5,303.6 560.5,307.0 564.5,308.9 568.5,311.8 572.5,314.7 576.5,311.6 580.5,311.4 584.5,311.5 588.5,310.7 592.5,306.4 596.5,301.9 600.5,296.0 604.5,291.6 608.5,289.5 612.5,285.4 616.5,288.5 620.5,295.8 624.5,299.3 628.5,303.9 632.5,310.4 636.5,312.9 640.5,311.2 644.5,311.7 648.5,309.1 652.5,304.3 656.5,295.8 660.5,286.2 664.5,276.5 668.5,268.9 672.5,258.9 676.5,249.8 680.5,245.2 684.5,238.6 688.5,230.3 692.5,223.2 696.5,222.1 700.5,220.5 704.5,221.6 708.5,221.1 712.5,222.2 716.5,223.3 720.5,224.0 724.5,225.4 728.5,224.2 732.5,221.2 736.5,219.1 740.5,218.2 744.5,219.8 748.5,219.6 752.5,219.0 756.5,217.4 760.5,213.2 764.5,213.1 768.5,217.3 772.5,220.9 776.5,223.9 780.5,224.0 784.5,227.4 788.5,231.3 792.5,230.6 796.5,230.1 800.5,228.6 804.5,227.5 808.5,226.1 812.5,226.9 816.5,225.3 820.5,220.4 824.5,213.6 828.5,208.4 832.5,202.6 836.5,199.5 840.5,197.2 844.5,193.0 848.5,188.9 852.5,186.3 856.5,181.4 860.5,178.2 864.5,174.4 868.5,169.3 872.5,167.9 876.5,170.9 880.5,172.4 884.5,171.6 888.5,171.6 892.5,172.2 896.5,169.2 900.5,169.1 904.5,170.1 908.5,169.9 912.5,172.8 916.5,173.3 920.5,173.2 924.5,174.3 928.5,175.4 932.5,174.6 936.5,172.7 940.5,171.3 944.5,168.5 948.5,165.3 952.5,163.1 956.5,163.1 960.5,165.3 964.5,165.6 968.5,167.4 972.5,174.1 976.5,182.4 980.5,189.8 984.5,196.1 988.5,200.2 992.5,206.8 996.5,210.6 1000.5,215.4 1004.5,219.4 1008.5,225.3 1012.5,232.1 1016.5,240.5 1020.5,249.0 1024.5,255.4 1028.5,259.1 1032.5,263.1 1036.5,268.9 1040.5,276.4 1044.5,286.7 1048.5,296.2 1052.5,307.7 1056.5,320.4 1060.5,335.2 1064.5,348.3 1068.5,355.9 1072.5,360.1 1076.5,364.4 1080.5,367.2 1084.5,371.5 1088.5,375.6 1092.5,379.4 1096.5,381.7 1100.5,382.9 1104.5,383.1 1108.5,386.4 1112.5,389.1 1116.5,388.9 1120.5,388.4 1124.5,386.6 1128.5,384.6" fill="none" stroke="#ff0000" stroke-width="1" shape-rendering="crispEdges" /><polyline points="4.5,420.6 8.5,431.0 12.5,435.1 16.5,435.3 20.5,433.0 24.5,425.7 28.5,410.1 32.5,390.1 36.5,369.8 40.5,354.8 44.5,345.2 48.5,337.4 52.5,339.8 56.5,353.6 60.5,367.4 64.5,377.1 68.5,387.5 72.5,396.1 76.5,411.4 80.5,423.2 84.5,430.9 88.5,437.6 92.5,447.4 96.5,454.8 100.5,463.4 104.5,458.1 108.5,448.8 112.5,447.8 116.5,454.8 120.5,462.8 124.5,473.4 128.5,479.5 132.5,488.9 136.5,496.5 140.5,494.4 144.5,484.6 148.5,474.6 152.5,455.9 156.5,443.9 160.5,433.6 164.5,426.9 168.5,423.1 172.5,424.6 176.5,417.5 180.5,415.4 184.5,408.4 188.5,403.9 192.5,398.1 196.5,390.9 200.5,382.1 204.5,378.4 208.5,377.4 212.5,379.1 216.5,376.9 220.5,375.4 224.5,369.2 228.5,365.5 232.5,362.2 236.5,361.9 240.5,360.6 244.5,361.6 248.5,361.5 252.5,362.6 256.5,353.2 260.5,346.9 264.5,334.9 268.5,325.9 272.5,315.4 276.5,310.8 280.5,309.4 284.5,314.2 288.5,315.5 292.5,310.5 296.5,310.4 300.5,315.1 304.5,310.4 308.5,305.1 312.5,296.5 316.5,286.6 320.5,289.1 324.5,285.1 328.5,276.8 332.5,273.8 336.5,276.2 340.5,276.1 344.5,270.8 348.5,261.4 352.5,260.8 356.5,257.8 360.5,247.4 364.5,232.8 368.5,224.8 372.5,225.6 376.5,227.2 380.5,218.5 384.5,211.6 388.5,206.9 392.5,199.1 396.5,187.5 400.5,168.2 404.5,149.9 408.5,133.9 412.5,120.1 416.5,110.8 420.5,99.1 424.5,87.8 428.5,85.1 432.5,83.2 436.5,80.2 440.5,76.5 444.5,84.1 448.5,102.5 452.5,124.4 456.5,150.9 460.5,181.5 464.5,214.8 468.5,246.5 472.5,263.1 476.5,272.8 480.5,280.1 484.5,282.9 488.5,281.8 492.5,276.2 496.5,273.5 500.5,273.1 504.5,270.9 508.5,264.5 512.5,257.6 516.5,250.2 520.5,254.6 524.5,258.6 528.5,259.9 532.5,261.6 536.5,278.9 540.5,296.6 544.5,317.8 548.5,327.9 552.5,336.5 556.5,347.4 560.5,352.4 564.5,338.8 568.5,326.9 572.5,311.6 576.5,295.2 580.5,286.4 584.5,275.6 588.5,269.1 592.5,274.1 596.5,276.8 600.5,280.4 604.5,288.1 608.5,292.6 612.5,295.1 616.5,307.9 620.5,317.5 624.5,321.8 628.5,327.5 632.5,332.6 636.5,333.1 640.5,327.4 644.5,315.5 648.5,300.6 652.5,286.8 656.5,264.1 660.5,239.8 664.5,219.9 668.5,210.5 672.5,202.4 676.5,198.9 680.5,203.6 684.5,213.2 688.5,220.8 692.5,226.5 696.5,233.6 700.5,238.6 704.5,244.2 708.5,238.5 712.5,231.2 716.5,225.8 720.5,221.5 724.5,217.2 728.5,209.8 732.5,198.2 736.5,199.6 740.5,205.2 744.5,213.8 748.5,217.8 752.5,220.8 756.5,224.9 760.5,228.2 764.5,226.6 768.5,229.4 772.5,227.9 776.5,229.9 780.5,227.2 784.5,229.8 788.5,234.4 792.5,234.5 796.5,230.9 800.5,229.4 804.5,225.1 808.5,225.1 812.5,223.9 816.5,216.2 820.5,206.2 824.5,196.4 828.5,187.5 832.5,180.1 836.5,173.9 840.5,170.5 844.5,169.8 848.5,171.6 852.5,176.2 856.5,175.2 860.5,176.4 864.5,174.9 868.5,168.1 872.5,165.9 876.5,170.2 880.5,168.6 884.5,168.1 888.5,166.9 892.5,169.5 896.5,170.4 900.5,172.2 904.5,169.9 908.5,171.2 912.5,177.5 916.5,179.6 920.5,176.9 924.5,178.2 928.5,178.6 932.5,179.4 936.5,174.2 940.5,165.1 944.5,157.4 948.5,153.6 952.5,147.9 956.5,147.6 960.5,151.2 964.5,156.9 968.5,169.8 972.5,190.8 976.5,211.1 980.5,231.6 984.5,244.5 988.5,249.2 992.5,256.6 996.5,251.5 1000.5,240.1 1004.5,227.6 1008.5,218.9 1012.5,219.6 1016.5,231.8 1020.5,241.4 1024.5,259.2 1028.5,278.2 1032.5,298.6 1036.5,318.8 1040.5,333.2 1044.5,341.6 1048.5,351.1 1052.5,356.2 1056.5,362.6 1060.5,371.8 1064.5,377.8 1068.5,378.5 1072.5,378.6 1076.5,377.6 1080.5,378.2 1084.5,380.4 1088.5,379.5 1092.5,380.9 1096.5,384.9 1100.5,387.2 1104.5,388.6 1108.5,394.6 1112.5,397.8 1116.5,398.2 1120.5,395.9 1124.5,388.2 1128.5,382.1" fill="none" stroke="#0000cd" stroke-width="1" shape-rendering="crispEdges" /><polygon points="1130,24 1139,24 1134.5,29" fill="#c0c0c0"/></g><g shape-rendering="crispEdges"><line x1="4" y1="188" x2="1419" y2="188" stroke="#ff0000" stroke-width="3"/><line x1="4" y1="273" x2="1419" y2="273" stroke="#ff0000" stroke-width="3"/><line x1="4" y1="323" x2="1419" y2="323" stroke="#00ff00" stroke-width="3"/><line x1="4" y1="425" x2="1419" y2="425" stroke="#0000ff" stroke-width="3"/></g><g clip-path="url(#cd)"><g shape-rendering="crispEdges"><rect x="4" y="619" width="1" height="16" fill="#c0c0c0"/><rect x="8" y="619" width="1" height="19" fill="#c0c0c0"/><rect x="12" y="619" width="1" height="19" fill="#c0c0c0"/><rect x="16" y="619" width="1" height="15" fill="#c0c0c0"/><rect x="20" y="619" width="1" height="12" fill="#c0c0c0"/><rect x="24" y="619" width="1" height="8" fill="#c0c0c0"/><rect x="32" y="614" width="1" height="6" fill="#c0c0c0"/><rect x="36" y="611" width="1" height="9" fill="#c0c0c0"/><rect x="40" y="608" width="1" height="12" fill="#c0c0c0"/><rect x="44" y="606" width="1" height="14" fill="#c0c0c0"/><rect x="48" y="605" width="1" height="15" fill="#c0c0c0"/><rect x="52" y="608" width="1" height="12" fill="#c0c0c0"/><rect x="56" y="613" width="1" height="7" fill="#c0c0c0"/><rect x="60" y="617" width="1" height="3" fill="#c0c0c0"/><rect x="68" y="619" width="1" height="2" fill="#c0c0c0"/><rect x="72" y="619" width="1" height="2" fill="#c0c0c0"/><rect x="76" y="619" width="1" height="6" fill="#c0c0c0"/><rect x="80" y="619" width="1" height="11" fill="#c0c0c0"/><rect x="84" y="619" width="1" height="16" fill="#c0c0c0"/><rect x="88" y="619" width="1" height="18" fill="#c0c0c0"/><rect x="92" y="619" width="1" height="20" fill="#c0c0c0"/><rect x="96" y="619" width="1" height="20" fill="#c0c0c0"/><rect x="100" y="619" width="1" height="20" fill="#c0c0c0"/><rect x="104" y="619" width="1" height="16" fill="#c0c0c0"/><rect x="108" y="619" width="1" height="13" fill="#c0c0c0"/><rect x="112" y="619" width="1" height="15" fill="#c0c0c0"/><rect x="116" y="619" width="1" height="20" fill="#c0c0c0"/><rect x="120" y="619" width="1" height="25" fill="#c0c0c0"/><rect x="124" y="619" width="1" height="28" fill="#c0c0c0"/><rect x="128" y="619" width="1" height="27" fill="#c0c0c0"/><rect x="132" y="619" width="1" height="25" fill="#c0c0c0"/><rect x="136" y="619" width="1" height="22" fill="#c0c0c0"/><rect x="140" y="619" width="1" height="20" fill="#c0c0c0"/><rect x="144" y="619" width="1" height="17" fill="#c0c0c0"/><rect x="148" y="619" width="1" height="15" fill="#c0c0c0"/><rect x="152" y="619" width="1" height="9" fill="#c0c0c0"/><rect x="156" y="619" width="1" height="5" fill="#c0c0c0"/><rect x="160" y="619" width="1" height="2" fill="#c0c0c0"/><rect x="164" y="618" width="1" height="2" fill="#c0c0c0"/><rect x="168" y="617" width="1" height="3" fill="#c0c0c0"/><rect x="176" y="617" width="1" height="3" fill="#c0c0c0"/><rect x="180" y="614" width="1" height="6" fill="#c0c0c0"/><rect x="184" y="609" width="1" height="11" fill="#c0c0c0"/><rect x="188" y="607" width="1" height="13" fill="#c0c0c0"/><rect x="192" y="605" width="1" height="15" fill="#c0c0c0"/><rect x="196" y="604" width="1" height="16" fill="#c0c0c0"/><rect x="200" y="605" width="1" height="15" fill="#c0c0c0"/><rect x="204" y="605" width="1" height="15" fill="#c0c0c0"/><rect x="208" y="605" width="1" height="15" fill="#c0c0c0"/><rect x="212" y="604" width="1" height="16" fill="#c0c0c0"/><rect x="216" y="603" width="1" height="17" fill="#c0c0c0"/><rect x="220" y="602" width="1" height="18" fill="#c0c0c0"/><rect x="224" y="600" width="1" height="20" fill="#c0c0c0"/><rect x="228" y="602" width="1" height="18" fill="#c0c0c0"/><rect x="232" y="602" width="1" height="18" fill="#c0c0c0"/><rect x="236" y="603" width="1" height="17" fill="#c0c0c0"/><rect x="240" y="604" width="1" height="16" fill="#c0c0c0"/><rect x="244" y="604" width="1" height="16" fill="#c0c0c0"/><rect x="248" y="605" width="1" height="15" fill="#c0c0c0"/><rect x="252" y="604" width="1" height="16" fill="#c0c0c0"/><rect x="256" y="601" width="1" height="19" fill="#c0c0c0"/><rect x="260" y="600" width="1" height="20" fill="#c0c0c0"/><rect x="264" y="597" width="1" height="23" fill="#c0c0c0"/><rect x="268" y="596" width="1" height="24" fill="#c0c0c0"/><rect x="272" y="594" width="1" height="26" fill="#c0c0c0"/><rect x="276" y="596" width="1" height="24" fill="#c0c0c0"/><rect x="280" y="598" width="1" height="22" fill="#c0c0c0"/><rect x="284" y="601" width="1" height="19" fill="#c0c0c0"/><rect x="288" y="602" width="1" height="18" fill="#c0c0c0"/><rect x="292" y="598" width="1" height="22" fill="#c0c0c0"/><rect x="296" y="598" width="1" height="22" fill="#c0c0c0"/><rect x="300" y="600" width="1" height="20" fill="#c0c0c0"/><rect x="304" y="600" width="1" height="20" fill="#c0c0c0"/><rect x="308" y="600" width="1" height="20" fill="#c0c0c0"/><rect x="312" y="600" width="1" height="20" fill="#c0c0c0"/><rect x="316" y="598" width="1" height="22" fill="#c0c0c0"/><rect x="320" y="597" width="1" height="23" fill="#c0c0c0"/><rect x="324" y="597" width="1" height="23" fill="#c0c0c0"/><rect x="328" y="597" width="1" height="23" fill="#c0c0c0"/><rect x="332" y="598" width="1" height="22" fill="#c0c0c0"/><rect x="336" y="601" width="1" height="19" fill="#c0c0c0"/><rect x="340" y="602" width="1" height="18" fill="#c0c0c0"/><rect x="344" y="599" width="1" height="21" fill="#c0c0c0"/><rect x="348" y="595" width="1" height="25" fill="#c0c0c0"/><rect x="352" y="597" width="1" height="23" fill="#c0c0c0"/><rect x="356" y="597" width="1" height="23" fill="#c0c0c0"/><rect x="360" y="594" width="1" height="26" fill="#c0c0c0"/><rect x="364" y="593" width="1" height="27" fill="#c0c0c0"/><rect x="368" y="593" width="1" height="27" fill="#c0c0c0"/><rect x="372" y="594" width="1" height="26" fill="#c0c0c0"/><rect x="376" y="594" width="1" height="26" fill="#c0c0c0"/><rect x="380" y="594" width="1" height="26" fill="#c0c0c0"/><rect x="384" y="593" width="1" height="27" fill="#c0c0c0"/><rect x="388" y="591" width="1" height="29" fill="#c0c0c0"/><rect x="392" y="588" width="1" height="32" fill="#c0c0c0"/><rect x="396" y="586" width="1" height="34" fill="#c0c0c0"/><rect x="400" y="581" width="1" height="39" fill="#c0c0c0"/><rect x="404" y="577" width="1" height="43" fill="#c0c0c0"/><rect x="408" y="575" width="1" height="45" fill="#c0c0c0"/><rect x="412" y="574" width="1" height="46" fill="#c0c0c0"/><rect x="416" y="574" width="1" height="46" fill="#c0c0c0"/><rect x="420" y="573" width="1" height="47" fill="#c0c0c0"/><rect x="424" y="572" width="1" height="48" fill="#c0c0c0"/><rect x="428" y="572" width="1" height="48" fill="#c0c0c0"/><rect x="432" y="572" width="1" height="48" fill="#c0c0c0"/><rect x="436" y="574" width="1" height="46" fill="#c0c0c0"/><rect x="440" y="575" width="1" height="45" fill="#c0c0c0"/><rect x="444" y="582" width="1" height="38" fill="#c0c0c0"/><rect x="448" y="592" width="1" height="28" fill="#c0c0c0"/><rect x="452" y="601" width="1" height="19" fill="#c0c0c0"/><rect x="456" y="611" width="1" height="9" fill="#c0c0c0"/><rect x="460" y="619" width="1" height="4" fill="#c0c0c0"/><rect x="464" y="619" width="1" height="13" fill="#c0c0c0"/><rect x="468" y="619" width="1" height="19" fill="#c0c0c0"/><rect x="472" y="619" width="1" height="22" fill="#c0c0c0"/><rect x="476" y="619" width="1" height="24" fill="#c0c0c0"/><rect x="480" y="619" width="1" height="26" fill="#c0c0c0"/><rect x="484" y="619" width="1" height="27" fill="#c0c0c0"/><rect x="488" y="619" width="1" height="28" fill="#c0c0c0"/><rect x="492" y="619" width="1" height="27" fill="#c0c0c0"/><rect x="496" y="619" width="1" height="27" fill="#c0c0c0"/><rect x="500" y="619" width="1" height="26" fill="#c0c0c0"/><rect x="504" y="619" width="1" height="25" fill="#c0c0c0"/><rect x="508" y="619" width="1" height="21" fill="#c0c0c0"/><rect x="512" y="619" width="1" height="18" fill="#c0c0c0"/><rect x="516" y="619" width="1" height="15" fill="#c0c0c0"/><rect x="520" y="619" width="1" height="18" fill="#c0c0c0"/><rect x="524" y="619" width="1" height="20" fill="#c0c0c0"/><rect x="528" y="619" width="1" height="20" fill="#c0c0c0"/><rect x="532" y="619" width="1" height="19" fill="#c0c0c0"/><rect x="536" y="619" width="1" height="24" fill="#c0c0c0"/><rect x="540" y="619" width="1" height="28" fill="#c0c0c0"/><rect x="544" y="619" width="1" height="32" fill="#c0c0c0"/><rect x="548" y="619" width="1" height="35" fill="#c0c0c0"/><rect x="552" y="619" width="1" height="36" fill="#c0c0c0"/><rect x="556" y="619" width="1" height="35" fill="#c0c0c0"/><rect x="560" y="619" width="1" height="31" fill="#c0c0c0"/><rect x="564" y="619" width="1" height="24" fill="#c0c0c0"/><rect x="568" y="619" width="1" height="20" fill="#c0c0c0"/><rect x="572" y="619" width="1" height="16" fill="#c0c0c0"/><rect x="576" y="619" width="1" height="11" fill="#c0c0c0"/><rect x="580" y="619" width="1" height="11" fill="#c0c0c0"/><rect x="584" y="619" width="1" height="9" fill="#c0c0c0"/><rect x="588" y="619" width="1" height="6" fill="#c0c0c0"/><rect x="592" y="619" width="1" height="6" fill="#c0c0c0"/><rect x="596" y="619" width="1" height="6" fill="#c0c0c0"/><rect x="600" y="619" width="1" height="6" fill="#c0c0c0"/><rect x="604" y="619" width="1" height="7" fill="#c0c0c0"/><rect x="608" y="619" width="1" height="10" fill="#c0c0c0"/><rect x="612" y="619" width="1" height="9" fill="#c0c0c0"/><rect x="616" y="619" width="1" height="12" fill="#c0c0c0"/><rect x="620" y="619" width="1" height="15" fill="#c0c0c0"/><rect x="624" y="619" width="1" height="14" fill="#c0c0c0"/><rect x="628" y="619" width="1" height="15" fill="#c0c0c0"/><rect x="632" y="619" width="1" height="16" fill="#c0c0c0"/><rect x="636" y="619" width="1" height="16" fill="#c0c0c0"/><rect x="640" y="619" width="1" height="10" fill="#c0c0c0"/><rect x="644" y="619" width="1" height="6" fill="#c0c0c0"/><rect x="652" y="614" width="1" height="6" fill="#c0c0c0"/><rect x="656" y="607" width="1" height="13" fill="#c0c0c0"/><rect x="660" y="601" width="1" height="19" fill="#c0c0c0"/><rect x="664" y="598" width="1" height="22" fill="#c0c0c0"/><rect x="668" y="596" width="1" height="24" fill="#c0c0c0"/><rect x="672" y="595" width="1" height="25" fill="#c0c0c0"/><rect x="676" y="597" width="1" height="23" fill="#c0c0c0"/><rect x="680" y="600" width="1" height="20" fill="#c0c0c0"/><rect x="684" y="602" width="1" height="18" fill="#c0c0c0"/><rect x="688" y="603" width="1" height="17" fill="#c0c0c0"/><rect x="692" y="604" width="1" height="16" fill="#c0c0c0"/><rect x="696" y="606" width="1" height="14" fill="#c0c0c0"/><rect x="700" y="607" width="1" height="13" fill="#c0c0c0"/><rect x="704" y="610" width="1" height="10" fill="#c0c0c0"/><rect x="708" y="609" width="1" height="11" fill="#c0c0c0"/><rect x="712" y="606" width="1" height="14" fill="#c0c0c0"/><rect x="716" y="604" width="1" height="16" fill="#c0c0c0"/><rect x="720" y="604" width="1" height="16" fill="#c0c0c0"/><rect x="724" y="605" width="1" height="15" fill="#c0c0c0"/><rect x="728" y="604" width="1" height="16" fill="#c0c0c0"/><rect x="732" y="602" width="1" height="18" fill="#c0c0c0"/><rect x="736" y="605" width="1" height="15" fill="#c0c0c0"/><rect x="740" y="607" width="1" height="13" fill="#c0c0c0"/><rect x="744" y="611" width="1" height="9" fill="#c0c0c0"/><rect x="748" y="612" width="1" height="8" fill="#c0c0c0"/><rect x="752" y="613" width="1" height="7" fill="#c0c0c0"/><rect x="756" y="614" width="1" height="6" fill="#c0c0c0"/><rect x="760" y="613" width="1" height="7" fill="#c0c0c0"/><rect x="764" y="613" width="1" height="7" fill="#c0c0c0"/><rect x="768" y="616" width="1" height="4" fill="#c0c0c0"/><rect x="772" y="617" width="1" height="3" fill="#c0c0c0"/><rect x="780" y="617" width="1" height="3" fill="#c0c0c0"/><rect x="784" y="618" width="1" height="2" fill="#c0c0c0"/><rect x="792" y="618" width="1" height="2" fill="#c0c0c0"/><rect x="796" y="618" width="1" height="2" fill="#c0c0c0"/><rect x="800" y="618" width="1" height="2" fill="#c0c0c0"/><rect x="804" y="617" width="1" height="3" fill="#c0c0c0"/><rect x="808" y="617" width="1" height="3" fill="#c0c0c0"/><rect x="812" y="617" width="1" height="3" fill="#c0c0c0"/><rect x="816" y="614" width="1" height="6" fill="#c0c0c0"/><rect x="820" y="610" width="1" height="10" fill="#c0c0c0"/><rect x="824" y="607" width="1" height="13" fill="#c0c0c0"/><rect x="828" y="605" width="1" height="15" fill="#c0c0c0"/><rect x="832" y="604" width="1" height="16" fill="#c0c0c0"/><rect x="836" y="604" width="1" height="16" fill="#c0c0c0"/><rect x="840" y="606" width="1" height="14" fill="#c0c0c0"/><rect x="844" y="607" width="1" height="13" fill="#c0c0c0"/><rect x="848" y="606" width="1" height="14" fill="#c0c0c0"/><rect x="852" y="607" width="1" height="13" fill="#c0c0c0"/><rect x="856" y="606" width="1" height="14" fill="#c0c0c0"/><rect x="860" y="606" width="1" height="14" fill="#c0c0c0"/><rect x="864" y="606" width="1" height="14" fill="#c0c0c0"/><rect x="868" y="606" width="1" height="14" fill="#c0c0c0"/><rect x="872" y="606" width="1" height="14" fill="#c0c0c0"/><rect x="876" y="608" width="1" height="12" fill="#c0c0c0"/><rect x="880" y="609" width="1" height="11" fill="#c0c0c0"/><rect x="884" y="609" width="1" height="11" fill="#c0c0c0"/><rect x="888" y="609" width="1" height="11" fill="#c0c0c0"/><rect x="892" y="610" width="1" height="10" fill="#c0c0c0"/><rect x="896" y="610" width="1" height="10" fill="#c0c0c0"/><rect x="900" y="611" width="1" height="9" fill="#c0c0c0"/><rect x="904" y="612" width="1" height="8" fill="#c0c0c0"/><rect x="908" y="614" width="1" height="6" fill="#c0c0c0"/><rect x="912" y="616" width="1" height="4" fill="#c0c0c0"/><rect x="916" y="616" width="1" height="4" fill="#c0c0c0"/><rect x="920" y="615" width="1" height="5" fill="#c0c0c0"/><rect x="924" y="615" width="1" height="5" fill="#c0c0c0"/><rect x="928" y="616" width="1" height="4" fill="#c0c0c0"/><rect x="932" y="616" width="1" height="4" fill="#c0c0c0"/><rect x="936" y="615" width="1" height="5" fill="#c0c0c0"/><rect x="940" y="612" width="1" height="8" fill="#c0c0c0"/><rect x="944" y="610" width="1" height="10" fill="#c0c0c0"/><rect x="948" y="609" width="1" height="11" fill="#c0c0c0"/><rect x="952" y="608" width="1" height="12" fill="#c0c0c0"/><rect x="956" y="611" width="1" height="9" fill="#c0c0c0"/><rect x="960" y="615" width="1" height="5" fill="#c0c0c0"/><rect x="964" y="617" width="1" height="3" fill="#c0c0c0"/><rect x="968" y="619" width="1" height="3" fill="#c0c0c0"/><rect x="972" y="619" width="1" height="10" fill="#c0c0c0"/><rect x="976" y="619" width="1" height="15" fill="#c0c0c0"/><rect x="980" y="619" width="1" height="20" fill="#c0c0c0"/><rect x="984" y="619" width="1" height="22" fill="#c0c0c0"/><rect x="988" y="619" width="1" height="22" fill="#c0c0c0"/><rect x="992" y="619" width="1" height="21" fill="#c0c0c0"/><rect x="996" y="619" width="1" height="17" fill="#c0c0c0"/><rect x="1000" y="619" width="1" height="14" fill="#c0c0c0"/><rect x="1004" y="619" width="1" height="11" fill="#c0c0c0"/><rect x="1008" y="619" width="1" height="10" fill="#c0c0c0"/><rect x="1012" y="619" width="1" height="14" fill="#c0c0c0"/><rect x="1016" y="619" width="1" height="20" fill="#c0c0c0"/><rect x="1020" y="619" width="1" height="24" fill="#c0c0c0"/><rect x="1024" y="619" width="1" height="27" fill="#c0c0c0"/><rect x="1028" y="619" width="1" height="30" fill="#c0c0c0"/><rect x="1032" y="619" width="1" height="32" fill="#c0c0c0"/><rect x="1036" y="619" width="1" height="36" fill="#c0c0c0"/><rect x="1040" y="619" width="1" height="39" fill="#c0c0c0"/><rect x="1044" y="619" width="1" height="42" fill="#c0c0c0"/><rect x="1048" y="619" width="1" height="43" fill="#c0c0c0"/><rect x="1052" y="619" width="1" height="42" fill="#c0c0c0"/><rect x="1056" y="619" width="1" height="42" fill="#c0c0c0"/><rect x="1060" y="619" width="1" height="43" fill="#c0c0c0"/><rect x="1064" y="619" width="1" height="44" fill="#c0c0c0"/><rect x="1068" y="619" width="1" height="43" fill="#c0c0c0"/><rect x="1072" y="619" width="1" height="42" fill="#c0c0c0"/><rect x="1076" y="619" width="1" height="39" fill="#c0c0c0"/><rect x="1080" y="619" width="1" height="36" fill="#c0c0c0"/><rect x="1084" y="619" width="1" height="35" fill="#c0c0c0"/><rect x="1088" y="619" width="1" height="34" fill="#c0c0c0"/><rect x="1092" y="619" width="1" height="35" fill="#c0c0c0"/><rect x="1096" y="619" width="1" height="35" fill="#c0c0c0"/><rect x="1100" y="619" width="1" height="34" fill="#c0c0c0"/><rect x="1104" y="619" width="1" height="31" fill="#c0c0c0"/><rect x="1108" y="619" width="1" height="30" fill="#c0c0c0"/><rect x="1112" y="619" width="1" height="29" fill="#c0c0c0"/><rect x="1116" y="619" width="1" height="28" fill="#c0c0c0"/><rect x="1120" y="619" width="1" height="26" fill="#c0c0c0"/><rect x="1124" y="619" width="1" height="22" fill="#c0c0c0"/><rect x="1128" y="619" width="1" height="18" fill="#c0c0c0"/></g><g fill="#ff0000" shape-rendering="crispEdges"><rect x="4" y="626" width="1" height="1"/><rect x="5" y="627" width="1" height="1"/><rect x="6" y="627" width="1" height="1"/><rect x="10" y="629" width="1" height="1"/><rect x="11" y="629" width="1" height="1"/><rect x="12" y="629" width="1" height="1"/><rect x="16" y="630" width="1" height="1"/><rect x="17" y="630" width="1" height="1"/><rect x="18" y="630" width="1" height="1"/><rect x="22" y="630" width="1" height="1"/><rect x="23" y="630" width="1" height="1"/><rect x="24" y="630" width="1" height="1"/><rect x="28" y="630" width="1" height="1"/><rect x="29" y="629" width="1" height="1"/><rect x="30" y="629" width="1" height="1"/><rect x="34" y="627" width="1" height="1"/><rect x="35" y="627" width="1" height="1"/><rect x="36" y="627" width="1" height="1"/><rect x="40" y="624" width="1" height="1"/><rect x="41" y="623" width="1" height="1"/><rect x="42" y="622" width="1" height="1"/><rect x="46" y="619" width="1" height="1"/><rect x="47" y="618" width="1" height="1"/><rect x="48" y="617" width="1" height="1"/><rect x="52" y="614" width="1" height="1"/><rect x="53" y="613" width="1" height="1"/><rect x="54" y="613" width="1" height="1"/><rect x="58" y="611" width="1" height="1"/><rect x="59" y="611" width="1" height="1"/><rect x="60" y="611" width="1" height="1"/><rect x="64" y="611" width="1" height="1"/><rect x="65" y="611" width="1" height="1"/><rect x="66" y="612" width="1" height="1"/><rect x="70" y="613" width="1" height="1"/><rect x="71" y="613" width="1" height="1"/><rect x="72" y="613" width="1" height="1"/><rect x="76" y="615" width="1" height="1"/><rect x="77" y="616" width="1" height="1"/><rect x="78" y="616" width="1" height="1"/><rect x="82" y="619" width="1" height="1"/><rect x="83" y="620" width="1" height="1"/><rect x="84" y="621" width="1" height="1"/><rect x="88" y="624" width="1" height="1"/><rect x="89" y="625" width="1" height="1"/><rect x="90" y="626" width="1" height="1"/><rect x="94" y="628" width="1" height="1"/><rect x="95" y="629" width="1" height="1"/><rect x="96" y="629" width="1" height="1"/><rect x="100" y="631" width="1" height="1"/><rect x="101" y="632" width="1" height="1"/><rect x="102" y="632" width="1" height="1"/><rect x="106" y="634" width="1" height="1"/><rect x="107" y="634" width="1" height="1"/><rect x="108" y="634" width="1" height="1"/><rect x="112" y="635" width="1" height="1"/><rect x="113" y="635" width="1" height="1"/><rect x="114" y="636" width="1" height="1"/><rect x="118" y="637" width="1" height="1"/><rect x="119" y="637" width="1" height="1"/><rect x="120" y="637" width="1" height="1"/><rect x="124" y="638" width="1" height="1"/><rect x="125" y="638" width="1" height="1"/><rect x="126" y="639" width="1" height="1"/><rect x="130" y="639" width="1" height="1"/><rect x="131" y="639" width="1" height="1"/><rect x="132" y="639" width="1" height="1"/><rect x="136" y="639" width="1" height="1"/><rect x="137" y="639" width="1" height="1"/><rect x="138" y="640" width="1" height="1"/><rect x="142" y="640" width="1" height="1"/><rect x="143" y="640" width="1" height="1"/><rect x="144" y="640" width="1" height="1"/><rect x="148" y="640" width="1" height="1"/><rect x="149" y="640" width="1" height="1"/><rect x="150" y="639" width="1" height="1"/><rect x="154" y="638" width="1" height="1"/><rect x="155" y="637" width="1" height="1"/><rect x="156" y="637" width="1" height="1"/><rect x="160" y="634" width="1" height="1"/><rect x="161" y="633" width="1" height="1"/><rect x="162" y="632" width="1" height="1"/><rect x="166" y="629" width="1" height="1"/><rect x="167" y="629" width="1" height="1"/><rect x="168" y="628" width="1" height="1"/><rect x="172" y="626" width="1" height="1"/><rect x="173" y="625" width="1" height="1"/><rect x="174" y="624" width="1" height="1"/><rect x="178" y="622" width="1" height="1"/><rect x="179" y="621" width="1" height="1"/><rect x="180" y="621" width="1" height="1"/><rect x="184" y="618" width="1" height="1"/><rect x="185" y="617" width="1" height="1"/><rect x="186" y="617" width="1" height="1"/><rect x="190" y="615" width="1" height="1"/><rect x="191" y="614" width="1" height="1"/><rect x="192" y="614" width="1" height="1"/><rect x="196" y="612" width="1" height="1"/><rect x="197" y="612" width="1" height="1"/><rect x="198" y="611" width="1" height="1"/><rect x="202" y="610" width="1" height="1"/><rect x="203" y="610" width="1" height="1"/><rect x="204" y="610" width="1" height="1"/><rect x="208" y="608" width="1" height="1"/><rect x="209" y="607" width="1" height="1"/><rect x="210" y="607" width="1" height="1"/><rect x="214" y="605" width="1" height="1"/><rect x="215" y="605" width="1" height="1"/><rect x="216" y="605" width="1" height="1"/><rect x="220" y="604" width="1" height="1"/><rect x="221" y="604" width="1" height="1"/><rect x="222" y="604" width="1" height="1"/><rect x="226" y="603" width="1" height="1"/><rect x="227" y="603" width="1" height="1"/><rect x="228" y="603" width="1" height="1"/><rect x="232" y="603" width="1" height="1"/><rect x="233" y="603" width="1" height="1"/><rect x="234" y="603" width="1" height="1"/><rect x="238" y="603" width="1" height="1"/><rect x="239" y="603" width="1" height="1"/><rect x="240" y="603" width="1" height="1"/><rect x="244" y="603" width="1" height="1"/><rect x="245" y="603" width="1" height="1"/><rect x="246" y="603" width="1" height="1"/><rect x="250" y="603" width="1" height="1"/><rect x="251" y="603" width="1" height="1"/><rect x="252" y="603" width="1" height="1"/><rect x="256" y="603" width="1" height="1"/><rect x="257" y="603" width="1" height="1"/><rect x="258" y="603" width="1" height="1"/><rect x="262" y="602" width="1" height="1"/><rect x="263" y="602" width="1" height="1"/><rect x="264" y="602" width="1" height="1"/><rect x="268" y="602" width="1" height="1"/><rect x="269" y="602" width="1" height="1"/><rect x="270" y="601" width="1" height="1"/><rect x="274" y="600" width="1" height="1"/><rect x="275" y="600" width="1" height="1"/><rect x="276" y="600" width="1" height="1"/><rect x="280" y="599" width="1" height="1"/><rect x="281" y="599" width="1" height="1"/><rect x="282" y="599" width="1" height="1"/><rect x="286" y="598" width="1" height="1"/><rect x="287" y="598" width="1" height="1"/><rect x="288" y="598" width="1" height="1"/><rect x="292" y="598" width="1" height="1"/><rect x="293" y="598" width="1" height="1"/><rect x="294" y="598" width="1" height="1"/><rect x="298" y="598" width="1" height="1"/><rect x="299" y="598" width="1" height="1"/><rect x="300" y="598" width="1" height="1"/><rect x="304" y="599" width="1" height="1"/><rect x="305" y="599" width="1" height="1"/><rect x="306" y="599" width="1" height="1"/><rect x="310" y="600" width="1" height="1"/><rect x="311" y="600" width="1" height="1"/><rect x="312" y="600" width="1" height="1"/><rect x="316" y="600" width="1" height="1"/><rect x="317" y="600" width="1" height="1"/><rect x="318" y="599" width="1" height="1"/><rect x="322" y="599" width="1" height="1"/><rect x="323" y="599" width="1" height="1"/><rect x="324" y="599" width="1" height="1"/><rect x="328" y="599" width="1" height="1"/><rect x="329" y="599" width="1" height="1"/><rect x="330" y="598" width="1" height="1"/><rect x="334" y="599" width="1" height="1"/><rect x="335" y="599" width="1" height="1"/><rect x="336" y="599" width="1" height="1"/><rect x="340" y="599" width="1" height="1"/><rect x="341" y="599" width="1" height="1"/><rect x="342" y="599" width="1" height="1"/><rect x="346" y="598" width="1" height="1"/><rect x="347" y="598" width="1" height="1"/><rect x="348" y="598" width="1" height="1"/><rect x="352" y="598" width="1" height="1"/><rect x="353" y="598" width="1" height="1"/><rect x="354" y="598" width="1" height="1"/><rect x="358" y="598" width="1" height="1"/><rect x="359" y="598" width="1" height="1"/><rect x="360" y="598" width="1" height="1"/><rect x="364" y="597" width="1" height="1"/><rect x="365" y="597" width="1" height="1"/><rect x="366" y="597" width="1" height="1"/><rect x="370" y="596" width="1" height="1"/><rect x="371" y="596" width="1" height="1"/><rect x="372" y="596" width="1" height="1"/><rect x="376" y="595" width="1" height="1"/><rect x="377" y="595" width="1" height="1"/><rect x="378" y="594" width="1" height="1"/><rect x="382" y="594" width="1" height="1"/><rect x="383" y="594" width="1" height="1"/><rect x="384" y="594" width="1" height="1"/><rect x="388" y="594" width="1" height="1"/><rect x="389" y="594" width="1" height="1"/><rect x="390" y="593" width="1" height="1"/><rect x="394" y="592" width="1" height="1"/><rect x="395" y="592" width="1" height="1"/><rect x="396" y="592" width="1" height="1"/><rect x="400" y="590" width="1" height="1"/><rect x="401" y="590" width="1" height="1"/><rect x="402" y="589" width="1" height="1"/><rect x="406" y="588" width="1" height="1"/><rect x="407" y="587" width="1" height="1"/><rect x="408" y="587" width="1" height="1"/><rect x="412" y="584" width="1" height="1"/><rect x="413" y="583" width="1" height="1"/><rect x="414" y="583" width="1" height="1"/><rect x="418" y="581" width="1" height="1"/><rect x="419" y="580" width="1" height="1"/><rect x="420" y="580" width="1" height="1"/><rect x="424" y="578" width="1" height="1"/><rect x="425" y="577" width="1" height="1"/><rect x="426" y="577" width="1" height="1"/><rect x="430" y="575" width="1" height="1"/><rect x="431" y="574" width="1" height="1"/><rect x="432" y="574" width="1" height="1"/><rect x="436" y="574" width="1" height="1"/><rect x="437" y="574" width="1" height="1"/><rect x="438" y="573" width="1" height="1"/><rect x="442" y="574" width="1" height="1"/><rect x="443" y="574" width="1" height="1"/><rect x="444" y="574" width="1" height="1"/><rect x="448" y="576" width="1" height="1"/><rect x="449" y="577" width="1" height="1"/><rect x="450" y="578" width="1" height="1"/><rect x="454" y="581" width="1" height="1"/><rect x="455" y="582" width="1" height="1"/><rect x="456" y="583" width="1" height="1"/><rect x="459" y="587" width="1" height="1"/><rect x="459" y="588" width="1" height="1"/><rect x="460" y="589" width="1" height="1"/><rect x="462" y="593" width="1" height="1"/><rect x="463" y="594" width="1" height="1"/><rect x="463" y="595" width="1" height="1"/><rect x="466" y="599" width="1" height="1"/><rect x="466" y="600" width="1" height="1"/><rect x="467" y="601" width="1" height="1"/><rect x="469" y="605" width="1" height="1"/><rect x="470" y="606" width="1" height="1"/><rect x="470" y="607" width="1" height="1"/><rect x="473" y="611" width="1" height="1"/><rect x="473" y="612" width="1" height="1"/><rect x="474" y="613" width="1" height="1"/><rect x="476" y="617" width="1" height="1"/><rect x="476" y="618" width="1" height="1"/><rect x="477" y="619" width="1" height="1"/><rect x="479" y="623" width="1" height="1"/><rect x="480" y="624" width="1" height="1"/><rect x="481" y="625" width="1" height="1"/><rect x="483" y="629" width="1" height="1"/><rect x="484" y="630" width="1" height="1"/><rect x="485" y="631" width="1" height="1"/><rect x="488" y="635" width="1" height="1"/><rect x="489" y="636" width="1" height="1"/><rect x="490" y="637" width="1" height="1"/><rect x="494" y="641" width="1" height="1"/><rect x="495" y="641" width="1" height="1"/><rect x="496" y="642" width="1" height="1"/><rect x="500" y="643" width="1" height="1"/><rect x="501" y="643" width="1" height="1"/><rect x="502" y="644" width="1" height="1"/><rect x="506" y="644" width="1" height="1"/><rect x="507" y="644" width="1" height="1"/><rect x="508" y="644" width="1" height="1"/><rect x="512" y="643" width="1" height="1"/><rect x="513" y="643" width="1" height="1"/><rect x="514" y="642" width="1" height="1"/><rect x="518" y="641" width="1" height="1"/><rect x="519" y="641" width="1" height="1"/><rect x="520" y="641" width="1" height="1"/><rect x="524" y="640" width="1" height="1"/><rect x="525" y="640" width="1" height="1"/><rect x="526" y="639" width="1" height="1"/><rect x="530" y="638" width="1" height="1"/><rect x="531" y="638" width="1" height="1"/><rect x="532" y="638" width="1" height="1"/><rect x="536" y="638" width="1" height="1"/><rect x="537" y="638" width="1" height="1"/><rect x="538" y="638" width="1" height="1"/><rect x="542" y="639" width="1" height="1"/><rect x="543" y="639" width="1" height="1"/><rect x="544" y="639" width="1" height="1"/><rect x="548" y="641" width="1" height="1"/><rect x="549" y="642" width="1" height="1"/><rect x="550" y="643" width="1" height="1"/><rect x="554" y="645" width="1" height="1"/><rect x="555" y="646" width="1" height="1"/><rect x="556" y="646" width="1" height="1"/><rect x="560" y="647" width="1" height="1"/><rect x="561" y="647" width="1" height="1"/><rect x="562" y="647" width="1" height="1"/><rect x="566" y="647" width="1" height="1"/><rect x="567" y="647" width="1" height="1"/><rect x="568" y="647" width="1" height="1"/><rect x="572" y="646" width="1" height="1"/><rect x="573" y="646" width="1" height="1"/><rect x="574" y="645" width="1" height="1"/><rect x="578" y="643" width="1" height="1"/><rect x="579" y="643" width="1" height="1"/><rect x="580" y="642" width="1" height="1"/><rect x="584" y="640" width="1" height="1"/><rect x="585" y="639" width="1" height="1"/><rect x="586" y="638" width="1" height="1"/><rect x="590" y="634" width="1" height="1"/><rect x="591" y="634" width="1" height="1"/><rect x="592" y="633" width="1" height="1"/><rect x="596" y="630" width="1" height="1"/><rect x="597" y="629" width="1" height="1"/><rect x="598" y="629" width="1" height="1"/><rect x="602" y="627" width="1" height="1"/><rect x="603" y="627" width="1" height="1"/><rect x="604" y="627" width="1" height="1"/><rect x="608" y="626" width="1" height="1"/><rect x="609" y="626" width="1" height="1"/><rect x="610" y="626" width="1" height="1"/><rect x="614" y="626" width="1" height="1"/><rect x="615" y="626" width="1" height="1"/><rect x="616" y="626" width="1" height="1"/><rect x="620" y="627" width="1" height="1"/><rect x="621" y="627" width="1" height="1"/><rect x="622" y="628" width="1" height="1"/><rect x="626" y="629" width="1" height="1"/><rect x="627" y="629" width="1" height="1"/><rect x="628" y="629" width="1" height="1"/><rect x="632" y="630" width="1" height="1"/><rect x="633" y="630" width="1" height="1"/><rect x="634" y="631" width="1" height="1"/><rect x="638" y="631" width="1" height="1"/><rect x="639" y="631" width="1" height="1"/><rect x="640" y="631" width="1" height="1"/><rect x="644" y="631" width="1" height="1"/><rect x="645" y="631" width="1" height="1"/><rect x="646" y="630" width="1" height="1"/><rect x="650" y="629" width="1" height="1"/><rect x="651" y="628" width="1" height="1"/><rect x="652" y="628" width="1" height="1"/><rect x="656" y="625" width="1" height="1"/><rect x="657" y="624" width="1" height="1"/><rect x="658" y="623" width="1" height="1"/><rect x="662" y="620" width="1" height="1"/><rect x="663" y="619" width="1" height="1"/><rect x="664" y="618" width="1" height="1"/><rect x="667" y="614" width="1" height="1"/><rect x="668" y="613" width="1" height="1"/><rect x="669" y="612" width="1" height="1"/><rect x="673" y="608" width="1" height="1"/><rect x="674" y="607" width="1" height="1"/><rect x="675" y="607" width="1" height="1"/><rect x="679" y="604" width="1" height="1"/><rect x="680" y="603" width="1" height="1"/><rect x="681" y="602" width="1" height="1"/><rect x="685" y="601" width="1" height="1"/><rect x="686" y="600" width="1" height="1"/><rect x="687" y="600" width="1" height="1"/><rect x="691" y="599" width="1" height="1"/><rect x="692" y="599" width="1" height="1"/><rect x="693" y="599" width="1" height="1"/><rect x="697" y="600" width="1" height="1"/><rect x="698" y="601" width="1" height="1"/><rect x="699" y="601" width="1" height="1"/><rect x="703" y="603" width="1" height="1"/><rect x="704" y="603" width="1" height="1"/><rect x="705" y="603" width="1" height="1"/><rect x="709" y="604" width="1" height="1"/><rect x="710" y="605" width="1" height="1"/><rect x="711" y="605" width="1" height="1"/><rect x="715" y="606" width="1" height="1"/><rect x="716" y="606" width="1" height="1"/><rect x="717" y="606" width="1" height="1"/><rect x="721" y="606" width="1" height="1"/><rect x="722" y="606" width="1" height="1"/><rect x="723" y="606" width="1" height="1"/><rect x="727" y="606" width="1" height="1"/><rect x="728" y="606" width="1" height="1"/><rect x="729" y="606" width="1" height="1"/><rect x="733" y="606" width="1" height="1"/><rect x="734" y="606" width="1" height="1"/><rect x="735" y="606" width="1" height="1"/><rect x="739" y="605" width="1" height="1"/><rect x="740" y="605" width="1" height="1"/><rect x="741" y="605" width="1" height="1"/><rect x="745" y="605" width="1" height="1"/><rect x="746" y="606" width="1" height="1"/><rect x="747" y="606" width="1" height="1"/><rect x="751" y="607" width="1" height="1"/><rect x="752" y="607" width="1" height="1"/><rect x="753" y="607" width="1" height="1"/><rect x="757" y="608" width="1" height="1"/><rect x="758" y="609" width="1" height="1"/><rect x="759" y="609" width="1" height="1"/><rect x="763" y="610" width="1" height="1"/><rect x="764" y="610" width="1" height="1"/><rect x="765" y="610" width="1" height="1"/><rect x="769" y="612" width="1" height="1"/><rect x="770" y="612" width="1" height="1"/><rect x="771" y="613" width="1" height="1"/><rect x="775" y="614" width="1" height="1"/><rect x="776" y="614" width="1" height="1"/><rect x="777" y="614" width="1" height="1"/><rect x="781" y="615" width="1" height="1"/><rect x="782" y="615" width="1" height="1"/><rect x="783" y="615" width="1" height="1"/><rect x="787" y="616" width="1" height="1"/><rect x="788" y="616" width="1" height="1"/><rect x="789" y="616" width="1" height="1"/><rect x="793" y="617" width="1" height="1"/><rect x="794" y="617" width="1" height="1"/><rect x="795" y="617" width="1" height="1"/><rect x="799" y="618" width="1" height="1"/><rect x="800" y="618" width="1" height="1"/><rect x="801" y="618" width="1" height="1"/><rect x="805" y="618" width="1" height="1"/><rect x="806" y="618" width="1" height="1"/><rect x="807" y="618" width="1" height="1"/><rect x="811" y="618" width="1" height="1"/><rect x="812" y="618" width="1" height="1"/><rect x="813" y="618" width="1" height="1"/><rect x="817" y="617" width="1" height="1"/><rect x="818" y="617" width="1" height="1"/><rect x="819" y="617" width="1" height="1"/><rect x="823" y="615" width="1" height="1"/><rect x="824" y="615" width="1" height="1"/><rect x="825" y="615" width="1" height="1"/><rect x="829" y="613" width="1" height="1"/><rect x="830" y="613" width="1" height="1"/><rect x="831" y="612" width="1" height="1"/><rect x="835" y="611" width="1" height="1"/><rect x="836" y="611" width="1" height="1"/><rect x="837" y="610" width="1" height="1"/><rect x="841" y="609" width="1" height="1"/><rect x="842" y="608" width="1" height="1"/><rect x="843" y="608" width="1" height="1"/><rect x="847" y="607" width="1" height="1"/><rect x="848" y="607" width="1" height="1"/><rect x="849" y="607" width="1" height="1"/><rect x="853" y="606" width="1" height="1"/><rect x="854" y="606" width="1" height="1"/><rect x="855" y="606" width="1" height="1"/><rect x="859" y="606" width="1" height="1"/><rect x="860" y="606" width="1" height="1"/><rect x="861" y="606" width="1" height="1"/><rect x="865" y="606" width="1" height="1"/><rect x="866" y="606" width="1" height="1"/><rect x="867" y="606" width="1" height="1"/><rect x="871" y="606" width="1" height="1"/><rect x="872" y="606" width="1" height="1"/><rect x="873" y="606" width="1" height="1"/><rect x="877" y="606" width="1" height="1"/><rect x="878" y="607" width="1" height="1"/><rect x="879" y="607" width="1" height="1"/><rect x="883" y="607" width="1" height="1"/><rect x="884" y="607" width="1" height="1"/><rect x="885" y="607" width="1" height="1"/><rect x="889" y="607" width="1" height="1"/><rect x="890" y="608" width="1" height="1"/><rect x="891" y="608" width="1" height="1"/><rect x="895" y="608" width="1" height="1"/><rect x="896" y="608" width="1" height="1"/><rect x="897" y="608" width="1" height="1"/><rect x="901" y="609" width="1" height="1"/><rect x="902" y="609" width="1" height="1"/><rect x="903" y="609" width="1" height="1"/><rect x="907" y="610" width="1" height="1"/><rect x="908" y="610" width="1" height="1"/><rect x="909" y="610" width="1" height="1"/><rect x="913" y="611" width="1" height="1"/><rect x="914" y="612" width="1" height="1"/><rect x="915" y="612" width="1" height="1"/><rect x="919" y="613" width="1" height="1"/><rect x="920" y="613" width="1" height="1"/><rect x="921" y="613" width="1" height="1"/><rect x="925" y="613" width="1" height="1"/><rect x="926" y="614" width="1" height="1"/><rect x="927" y="614" width="1" height="1"/><rect x="931" y="615" width="1" height="1"/><rect x="932" y="615" width="1" height="1"/><rect x="933" y="615" width="1" height="1"/><rect x="937" y="615" width="1" height="1"/><rect x="938" y="615" width="1" height="1"/><rect x="939" y="615" width="1" height="1"/><rect x="943" y="615" width="1" height="1"/><rect x="944" y="615" width="1" height="1"/><rect x="945" y="615" width="1" height="1"/><rect x="949" y="614" width="1" height="1"/><rect x="950" y="613" width="1" height="1"/><rect x="951" y="613" width="1" height="1"/><rect x="955" y="612" width="1" height="1"/><rect x="956" y="612" width="1" height="1"/><rect x="957" y="612" width="1" height="1"/><rect x="961" y="612" width="1" height="1"/><rect x="962" y="613" width="1" height="1"/><rect x="963" y="613" width="1" height="1"/><rect x="967" y="613" width="1" height="1"/><rect x="968" y="613" width="1" height="1"/><rect x="969" y="614" width="1" height="1"/><rect x="973" y="616" width="1" height="1"/><rect x="974" y="616" width="1" height="1"/><rect x="975" y="617" width="1" height="1"/><rect x="979" y="619" width="1" height="1"/><rect x="980" y="620" width="1" height="1"/><rect x="981" y="621" width="1" height="1"/><rect x="985" y="624" width="1" height="1"/><rect x="986" y="625" width="1" height="1"/><rect x="987" y="626" width="1" height="1"/><rect x="991" y="629" width="1" height="1"/><rect x="992" y="630" width="1" height="1"/><rect x="993" y="631" width="1" height="1"/><rect x="997" y="633" width="1" height="1"/><rect x="998" y="633" width="1" height="1"/><rect x="999" y="634" width="1" height="1"/><rect x="1003" y="635" width="1" height="1"/><rect x="1004" y="635" width="1" height="1"/><rect x="1005" y="635" width="1" height="1"/><rect x="1009" y="635" width="1" height="1"/><rect x="1010" y="635" width="1" height="1"/><rect x="1011" y="635" width="1" height="1"/><rect x="1015" y="635" width="1" height="1"/><rect x="1016" y="635" width="1" height="1"/><rect x="1017" y="635" width="1" height="1"/><rect x="1021" y="635" width="1" height="1"/><rect x="1022" y="635" width="1" height="1"/><rect x="1023" y="635" width="1" height="1"/><rect x="1027" y="636" width="1" height="1"/><rect x="1028" y="636" width="1" height="1"/><rect x="1029" y="637" width="1" height="1"/><rect x="1033" y="639" width="1" height="1"/><rect x="1034" y="640" width="1" height="1"/><rect x="1035" y="640" width="1" height="1"/><rect x="1039" y="643" width="1" height="1"/><rect x="1040" y="644" width="1" height="1"/><rect x="1041" y="645" width="1" height="1"/><rect x="1045" y="648" width="1" height="1"/><rect x="1046" y="649" width="1" height="1"/><rect x="1047" y="649" width="1" height="1"/><rect x="1051" y="652" width="1" height="1"/><rect x="1052" y="653" width="1" height="1"/><rect x="1053" y="654" width="1" height="1"/><rect x="1057" y="656" width="1" height="1"/><rect x="1058" y="656" width="1" height="1"/><rect x="1059" y="657" width="1" height="1"/><rect x="1063" y="658" width="1" height="1"/><rect x="1064" y="658" width="1" height="1"/><rect x="1065" y="658" width="1" height="1"/><rect x="1069" y="659" width="1" height="1"/><rect x="1070" y="660" width="1" height="1"/><rect x="1071" y="660" width="1" height="1"/><rect x="1075" y="660" width="1" height="1"/><rect x="1076" y="660" width="1" height="1"/><rect x="1077" y="660" width="1" height="1"/><rect x="1081" y="660" width="1" height="1"/><rect x="1082" y="659" width="1" height="1"/><rect x="1083" y="659" width="1" height="1"/><rect x="1087" y="658" width="1" height="1"/><rect x="1088" y="658" width="1" height="1"/><rect x="1089" y="658" width="1" height="1"/><rect x="1093" y="657" width="1" height="1"/><rect x="1094" y="656" width="1" height="1"/><rect x="1095" y="656" width="1" height="1"/><rect x="1099" y="655" width="1" height="1"/><rect x="1100" y="655" width="1" height="1"/><rect x="1101" y="655" width="1" height="1"/><rect x="1105" y="653" width="1" height="1"/><rect x="1106" y="653" width="1" height="1"/><rect x="1107" y="652" width="1" height="1"/><rect x="1111" y="651" width="1" height="1"/><rect x="1112" y="651" width="1" height="1"/><rect x="1113" y="651" width="1" height="1"/><rect x="1117" y="650" width="1" height="1"/><rect x="1118" y="649" width="1" height="1"/><rect x="1119" y="649" width="1" height="1"/><rect x="1123" y="648" width="1" height="1"/><rect x="1124" y="648" width="1" height="1"/><rect x="1125" y="647" width="1" height="1"/></g></g><g clip-path="url(#cr)"><g shape-rendering="crispEdges"><line x1="5" y1="709.5" x2="1419" y2="709.5" stroke="#c0c0c0" stroke-width="1" stroke-dasharray="3 3"/><line x1="5" y1="760.5" x2="1419" y2="760.5" stroke="#c0c0c0" stroke-width="1" stroke-dasharray="3 3"/></g><polyline points="4.5,749.9 8.5,752.1 12.5,741.0 16.5,734.0 20.5,732.7 24.5,729.4 28.5,722.1 32.5,722.1 36.5,725.0 40.5,723.1 44.5,723.6 48.5,725.0 52.5,738.1 56.5,744.8 60.5,744.6 64.5,740.6 68.5,739.1 72.5,736.3 76.5,747.2 80.5,752.3 84.5,753.2 88.5,750.9 92.5,751.8 96.5,745.2 100.5,744.3 104.5,732.6 108.5,733.1 112.5,746.9 116.5,754.5 120.5,756.2 124.5,755.0 128.5,746.0 132.5,740.8 136.5,738.3 140.5,737.3 144.5,736.1 148.5,738.6 152.5,724.4 156.5,727.6 160.5,725.7 164.5,729.3 168.5,733.4 172.5,740.9 176.5,729.9 180.5,724.5 184.5,721.1 188.5,723.1 192.5,724.1 196.5,726.0 200.5,731.6 204.5,728.3 208.5,725.9 212.5,725.5 216.5,721.4 220.5,724.0 224.5,718.7 228.5,730.1 232.5,727.4 236.5,730.3 240.5,728.1 244.5,727.4 248.5,727.4 252.5,723.2 256.5,715.2 260.5,718.9 264.5,713.0 268.5,717.4 272.5,714.7 276.5,728.4 280.5,730.2 284.5,732.5 288.5,728.6 292.5,714.1 296.5,726.5 300.5,731.1 304.5,726.6 308.5,727.1 312.5,724.2 316.5,719.9 320.5,723.2 324.5,723.5 328.5,721.5 332.5,725.5 336.5,736.4 340.5,728.9 344.5,718.3 348.5,715.8 352.5,730.5 356.5,726.1 360.5,720.4 364.5,722.8 368.5,725.7 372.5,726.1 376.5,724.0 380.5,722.4 384.5,720.0 388.5,716.0 392.5,714.3 396.5,712.3 400.5,705.5 404.5,704.9 408.5,707.3 412.5,707.6 416.5,710.6 420.5,706.3 424.5,705.0 428.5,708.1 432.5,708.5 436.5,708.3 440.5,707.6 444.5,737.0 448.5,747.0 452.5,749.5 456.5,756.0 460.5,759.9 464.5,762.2 468.5,757.8 472.5,752.4 476.5,752.4 480.5,751.5 484.5,753.3 488.5,753.5 492.5,749.0 496.5,750.1 500.5,749.0 504.5,744.5 508.5,733.8 512.5,735.9 516.5,735.0 520.5,752.4 524.5,752.7 528.5,745.5 532.5,742.7 536.5,757.2 540.5,758.6 544.5,761.6 548.5,759.3 552.5,756.3 556.5,754.3 560.5,739.6 564.5,728.0 568.5,733.0 572.5,732.3 576.5,729.2 580.5,739.0 584.5,734.9 588.5,730.6 592.5,736.5 596.5,737.8 600.5,738.4 604.5,741.6 608.5,746.2 612.5,737.4 616.5,747.4 620.5,748.1 624.5,740.5 628.5,743.0 632.5,745.0 636.5,742.1 640.5,726.0 644.5,728.1 648.5,725.0 652.5,721.0 656.5,714.0 660.5,713.8 664.5,719.2 668.5,718.6 672.5,723.5 676.5,727.7 680.5,735.5 684.5,732.2 688.5,729.1 692.5,730.9 696.5,732.4 700.5,733.2 704.5,738.5 708.5,727.4 712.5,722.3 716.5,721.9 720.5,726.4 724.5,728.1 728.5,723.8 732.5,721.9 736.5,734.8 740.5,735.6 744.5,740.4 748.5,735.7 752.5,735.5 756.5,732.4 760.5,728.4 764.5,731.9 768.5,741.2 772.5,738.2 776.5,740.1 780.5,730.4 784.5,737.6 788.5,737.3 792.5,731.8 796.5,733.8 800.5,735.1 804.5,731.5 808.5,730.3 812.5,736.4 816.5,723.5 820.5,716.1 824.5,718.9 828.5,722.6 832.5,722.1 836.5,723.9 840.5,735.8 844.5,728.5 848.5,724.3 852.5,732.3 856.5,725.8 860.5,729.5 864.5,726.6 868.5,726.3 872.5,727.9 876.5,736.1 880.5,732.2 884.5,726.9 888.5,729.7 892.5,733.7 896.5,730.1 900.5,733.9 904.5,733.3 908.5,736.9 912.5,741.2 916.5,734.5 920.5,728.3 924.5,733.3 928.5,735.2 932.5,735.2 936.5,725.9 940.5,722.2 944.5,719.7 948.5,722.6 952.5,723.0 956.5,738.9 960.5,746.2 964.5,741.2 968.5,749.8 972.5,758.3 976.5,758.7 980.5,759.2 984.5,755.4 988.5,745.2 992.5,746.1 996.5,731.6 1000.5,732.4 1004.5,731.1 1008.5,739.0 1012.5,750.7 1016.5,758.4 1020.5,754.4 1024.5,755.4 1028.5,757.1 1032.5,757.9 1036.5,761.9 1040.5,764.1 1044.5,765.2 1048.5,762.6 1052.5,754.0 1056.5,757.5 1060.5,761.3 1064.5,762.1 1068.5,754.6 1072.5,755.3 1076.5,750.0 1080.5,745.6 1084.5,752.4 1088.5,753.0 1092.5,757.1 1096.5,755.9 1100.5,752.8 1104.5,745.0 1108.5,749.6 1112.5,752.1 1116.5,746.3 1120.5,746.8 1124.5,733.5 1128.5,734.4" fill="none" stroke="#1e90ff" stroke-width="1" shape-rendering="crispEdges" /></g><g shape-rendering="crispEdges"><rect x="3.5" y="23.5" width="1416" height="539" fill="none" stroke="#000" stroke-width="1"/><rect x="3.5" y="564.5" width="1416" height="103" fill="none" stroke="#000" stroke-width="1"/><rect x="3.5" y="669.5" width="1416" height="130" fill="none" stroke="#000" stroke-width="1"/><rect x="1420" y="31" width="3" height="1" fill="#000"/><rect x="1420" y="64" width="3" height="1" fill="#000"/><rect x="1420" y="97" width="3" height="1" fill="#000"/><rect x="1420" y="130" width="3" height="1" fill="#000"/><rect x="1420" y="163" width="3" height="1" fill="#000"/><rect x="1420" y="196" width="3" height="1" fill="#000"/><rect x="1420" y="229" width="3" height="1" fill="#000"/><rect x="1420" y="262" width="3" height="1" fill="#000"/><rect x="1420" y="295" width="3" height="1" fill="#000"/><rect x="1420" y="328" width="3" height="1" fill="#000"/><rect x="1420" y="361" width="3" height="1" fill="#000"/><rect x="1420" y="394" width="3" height="1" fill="#000"/><rect x="1420" y="427" width="3" height="1" fill="#000"/><rect x="1420" y="460" width="3" height="1" fill="#000"/><rect x="1420" y="493" width="3" height="1" fill="#000"/><rect x="1420" y="526" width="3" height="1" fill="#000"/><rect x="1420" y="559" width="3" height="1" fill="#000"/><rect x="1420" y="566" width="2" height="1" fill="#000"/><rect x="1420" y="619" width="2" height="1" fill="#000"/><rect x="1420" y="666" width="2" height="1" fill="#000"/><rect x="1420" y="671" width="2" height="1" fill="#000"/><rect x="1420" y="709" width="2" height="1" fill="#000"/><rect x="1420" y="760" width="2" height="1" fill="#000"/><rect x="1420" y="798" width="2" height="1" fill="#000"/><rect x="4" y="800" width="1" height="3" fill="#000"/><rect x="68" y="800" width="1" height="3" fill="#000"/><rect x="132" y="800" width="1" height="3" fill="#000"/><rect x="196" y="800" width="1" height="3" fill="#000"/><rect x="260" y="800" width="1" height="3" fill="#000"/><rect x="324" y="800" width="1" height="3" fill="#000"/><rect x="388" y="800" width="1" height="3" fill="#000"/><rect x="452" y="800" width="1" height="3" fill="#000"/><rect x="516" y="800" width="1" height="3" fill="#000"/><rect x="580" y="800" width="1" height="3" fill="#000"/><rect x="644" y="800" width="1" height="3" fill="#000"/><rect x="708" y="800" width="1" height="3" fill="#000"/><rect x="772" y="800" width="1" height="3" fill="#000"/><rect x="836" y="800" width="1" height="3" fill="#000"/><rect x="900" y="800" width="1" height="3" fill="#000"/><rect x="964" y="800" width="1" height="3" fill="#000"/><rect x="1028" y="800" width="1" height="3" fill="#000"/><rect x="1092" y="800" width="1" height="3" fill="#000"/></g></svg>
<div class="ax" style="left:1425px;top:28px;color:#000;transform:scaleX(0.93)">1.36980</div><div class="ax" style="left:1425px;top:61px;color:#000;transform:scaleX(0.93)">1.36395</div><div class="ax" style="left:1425px;top:94px;color:#000;transform:scaleX(0.93)">1.35810</div><div class="ax" style="left:1425px;top:127px;color:#000;transform:scaleX(0.93)">1.35225</div><div class="ax" style="left:1425px;top:160px;color:#000;transform:scaleX(0.93)">1.34640</div><div class="ax" style="left:1425px;top:193px;color:#000;transform:scaleX(0.93)">1.34055</div><div class="ax" style="left:1425px;top:226px;color:#000;transform:scaleX(0.93)">1.33470</div><div class="ax" style="left:1425px;top:259px;color:#000;transform:scaleX(0.93)">1.32885</div><div class="ax" style="left:1425px;top:292px;color:#000;transform:scaleX(0.93)">1.32300</div><div class="ax" style="left:1425px;top:325px;color:#000;transform:scaleX(0.93)">1.31715</div><div class="ax" style="left:1425px;top:358px;color:#000;transform:scaleX(0.93)">1.31130</div><div class="ax" style="left:1425px;top:391px;color:#000;transform:scaleX(0.93)">1.30545</div><div class="ax" style="left:1425px;top:424px;color:#000;transform:scaleX(0.93)">1.29975</div><div class="ax" style="left:1425px;top:457px;color:#000;transform:scaleX(0.93)">1.29390</div><div class="ax" style="left:1425px;top:490px;color:#000;transform:scaleX(0.93)">1.28805</div><div class="ax" style="left:1425px;top:523px;color:#000;transform:scaleX(0.93)">1.28220</div><div class="ax" style="left:1425px;top:556px;color:#000;transform:scaleX(0.93)">1.27635</div><div class="bx" style="left:1421px;top:182px;width:41px;height:11px;background:#ff0000;"></div><div class="ax" style="left:1425px;top:184px;color:#fff;transform:scaleX(0.93)">1.34206</div><div class="bx" style="left:1421px;top:267px;width:41px;height:11px;background:#ff0000;"></div><div class="ax" style="left:1425px;top:269px;color:#fff;transform:scaleX(0.93)">1.32701</div><div class="bx" style="left:1421px;top:317px;width:41px;height:11px;background:#00ff00;"></div><div class="ax" style="left:1425px;top:319px;color:#fff;transform:scaleX(0.93)">1.31801</div><div class="bx" style="left:1421px;top:349px;width:41px;height:11px;background:#000;"></div><div class="ax" style="left:1425px;top:351px;color:#fff;transform:scaleX(0.93)">1.31256</div><div class="bx" style="left:1421px;top:419px;width:41px;height:11px;background:#0000ff;"></div><div class="ax" style="left:1425px;top:421px;color:#fff;transform:scaleX(0.93)">1.30004</div><div class="ax" style="left:1423px;top:568px;color:#000;transform:scaleX(0.93)">0.010311</div><div class="ax" style="left:1423px;top:616px;color:#000;transform:scaleX(0.93)">0.00</div><div class="ax" style="left:1423px;top:657px;color:#000;transform:scaleX(0.93)">-0.009203</div><div class="ax" style="left:1423px;top:673px;color:#000;transform:scaleX(0.93)">100</div><div class="ax" style="left:1423px;top:706px;color:#000;transform:scaleX(0.93)">70</div><div class="ax" style="left:1423px;top:757px;color:#000;transform:scaleX(0.93)">30</div><div class="ax" style="left:1423px;top:789px;color:#000;transform:scaleX(0.93)">0</div><div class="ax" style="left:7.5px;top:570px;color:#000;transform:scaleX(0.96)">MACD(12,26,9)</div><div class="ax" style="left:77.2px;top:570px;color:#000;transform:scaleX(0.916)">-0.003284 -0.005201</div><div class="ax" style="left:7.3px;top:675px;color:#000;transform:scaleX(0.945)">RSI(14)</div><div class="ax" style="left:42.2px;top:675px;color:#000;transform:scaleX(0.925)">50.9392</div><div class="ax" style="left:2.6px;top:805px;color:#000;transform:scaleX(0.969)">28 Aug 2018</div><div class="ax" style="left:67.1px;top:805px;color:#000;transform:scaleX(0.932)">16 Sep 2018</div><div class="ax" style="left:130.8px;top:805px;color:#000;transform:scaleX(0.969)">4 Oct 2018</div><div class="ax" style="left:195.0px;top:805px;color:#000;transform:scaleX(0.964)">23 Oct 2018</div><div class="ax" style="left:258.9px;top:805px;color:#000;transform:scaleX(0.987)">11 Nov 2018</div><div class="ax" style="left:323.1px;top:805px;color:#000;transform:scaleX(0.97)">29 Nov 2018</div><div class="ax" style="left:386.8px;top:805px;color:#000;transform:scaleX(0.941)">18 Dec 2018</div><div class="ax" style="left:450.5px;top:805px;color:#000;transform:scaleX(0.952)">6 Jan 2019</div><div class="ax" style="left:514.7px;top:805px;color:#000;transform:scaleX(0.943)">24 Jan 2019</div><div class="ax" style="left:579.1px;top:805px;color:#000;transform:scaleX(0.949)">12 Feb 2019</div><div class="ax" style="left:642.6px;top:805px;color:#000;transform:scaleX(0.976)">3 Mar 2019</div><div class="ax" style="left:706.5px;top:805px;color:#000;transform:scaleX(0.949)">21 Mar 2019</div><div class="ax" style="left:770.4px;top:805px;color:#000;transform:scaleX(0.996)">9 Apr 2019</div><div class="ax" style="left:834.9px;top:805px;color:#000;transform:scaleX(0.966)">29 Apr 2019</div><div class="ax" style="left:898.6px;top:805px;color:#000;transform:scaleX(0.975)">17 May 2019</div><div class="ax" style="left:962.8px;top:805px;color:#000;transform:scaleX(0.946)">5 Jun 2019</div><div class="ax" style="left:1026.7px;top:805px;color:#000;transform:scaleX(0.933)">24 Jun 2019</div><div class="ax" style="left:1090.9px;top:805px;color:#000;transform:scaleX(0.922)">12 Jul 2019</div><svg class="ch" width="20" height="40"><polygon points="7,34 14,34 10.5,29.5" fill="#000"/></svg><div class="ax" style="left:18.5px;top:28px;color:#000;transform:scaleX(0.976)">USDCAD-,Daily</div><div class="ax" style="left:93.5px;top:28px;color:#000;transform:scaleX(0.925)">1.31289 1.31291 1.31209 1.31256</div>
<div class="bx" style="left:7px;top:67px;width:109px;height:40px;background:linear-gradient(to bottom,#e23a3a,#b00000);border:1px solid #b40000;box-sizing:border-box"></div><div class="bx" style="left:118px;top:67px;width:108px;height:40px;background:linear-gradient(to bottom,#e23a3a,#b00000);border:1px solid #b40000;box-sizing:border-box"></div><div class="bx" style="left:7px;top:43px;width:52px;height:25px;background:linear-gradient(to bottom,#fa5656,#e03434);border:1px solid #b40000;border-bottom:none;box-sizing:border-box"></div><div class="bx" style="left:174px;top:43px;width:52px;height:25px;background:linear-gradient(to bottom,#fa5656,#e03434);border:1px solid #b40000;border-bottom:none;box-sizing:border-box"></div><div class="bx" style="left:11px;top:66px;width:45px;height:1px;background:#7a0000"></div><div class="bx" style="left:11px;top:67px;width:45px;height:1px;background:#f26060"></div><div class="bx" style="left:178px;top:66px;width:44px;height:1px;background:#7a0000"></div><div class="bx" style="left:178px;top:67px;width:44px;height:1px;background:#f26060"></div><div class="bx" style="left:59px;top:43px;width:115px;height:24px;background:#fff"></div><div class="bx" style="left:61px;top:43px;width:111px;height:22px;background:#fff;border:1px solid #a9acb4;box-sizing:border-box"></div><div class="bx" style="left:62px;top:44px;width:20px;height:20px;background:linear-gradient(to bottom,#f2f2f2 0%,#e8e8e8 48%,#d6d6d6 52%,#cfcfcf 100%);border-right:1px solid #a9acb4;box-sizing:border-box"></div><div class="bx" style="left:151px;top:44px;width:20px;height:20px;background:linear-gradient(to bottom,#f2f2f2 0%,#e8e8e8 48%,#d6d6d6 52%,#cfcfcf 100%);border-left:1px solid #a9acb4;box-sizing:border-box"></div><svg class="ch" width="240" height="120" shape-rendering="crispEdges"><polygon points="68,52 75,52 71.5,55.5" fill="#5468c8"/><polygon points="157,55.5 164,55.5 160.5,52" fill="#5468c8"/></svg><div class="t" style="left:123.5px;top:47.5px;font-size:12.5px;color:#000">1.00</div><div class="t" style="left:19px;top:48.5px;font-size:12px;color:#ffeaea;transform:scaleX(0.89);transform-origin:0 0">SELL</div><div class="t" style="left:187.5px;top:48.5px;font-size:12px;color:#ffeaea;transform:scaleX(0.97);transform-origin:0 0">BUY</div><div class="t" style="left:27.5px;top:88px;font-size:12px;font-weight:bold;color:#fff">1.31</div><div class="t" style="left:54px;top:68.5px;font-size:34px;color:#fff;transform:scaleX(0.92);transform-origin:0 0">25</div><div class="t" style="left:93.5px;top:72px;font-size:12px;font-weight:bold;color:#fff">6</div><div class="t" style="left:137.5px;top:88px;font-size:12px;font-weight:bold;color:#fff">1.31</div><div class="t" style="left:165.5px;top:68.5px;font-size:34px;color:#fff;transform:scaleX(0.92);transform-origin:0 0">27</div><div class="t" style="left:205px;top:72px;font-size:12px;font-weight:bold;color:#fff">9</div>
</body></html>
